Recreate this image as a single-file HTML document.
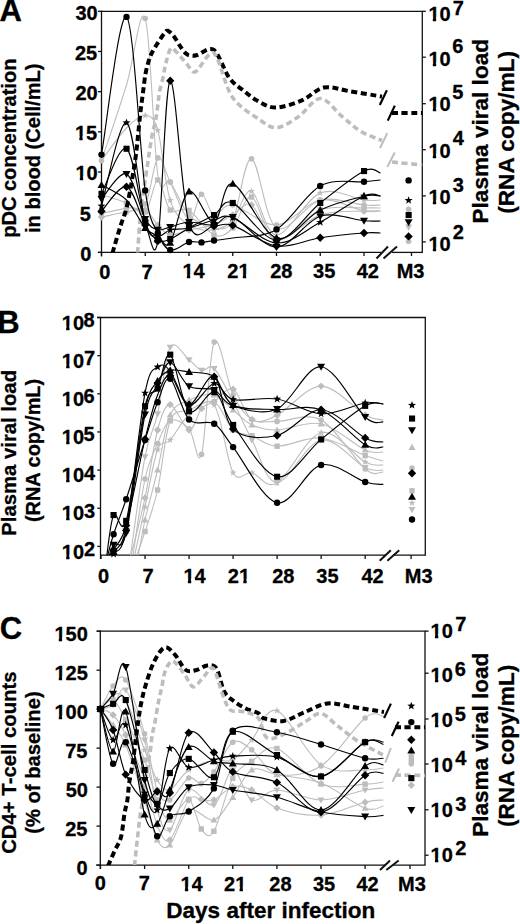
<!DOCTYPE html>
<html><head><meta charset="utf-8"><style>html,body{margin:0;padding:0;background:#fff;}svg{display:block}</style></head>
<body><svg width="520" height="924" viewBox="0 0 520 924" font-family="Liberation Sans, sans-serif" font-weight="bold">
<rect width="520" height="924" fill="#fff"/>
<style>text{stroke:#000;stroke-width:0.3;stroke-linejoin:round}</style>
<line x1="101.50" y1="10.70" x2="101.50" y2="256.50" stroke="#111" stroke-width="1.3"/>
<line x1="100.90" y1="11.30" x2="422.90" y2="11.30" stroke="#111" stroke-width="1.3"/>
<line x1="422.30" y1="11.30" x2="422.30" y2="252.40" stroke="#111" stroke-width="1.3"/>
<line x1="97.80" y1="252.40" x2="381.00" y2="252.40" stroke="#111" stroke-width="1.3"/>
<line x1="392.00" y1="252.40" x2="422.90" y2="252.40" stroke="#111" stroke-width="1.3"/>
<line x1="376.50" y1="258.50" x2="388.00" y2="246.50" stroke="#111" stroke-width="2"/>
<line x1="383.50" y1="258.50" x2="397.00" y2="246.50" stroke="#111" stroke-width="2"/>
<line x1="98.00" y1="11.30" x2="101.50" y2="11.30" stroke="#111" stroke-width="1.3"/>
<line x1="98.00" y1="51.48" x2="101.50" y2="51.48" stroke="#111" stroke-width="1.3"/>
<line x1="98.00" y1="91.67" x2="101.50" y2="91.67" stroke="#111" stroke-width="1.3"/>
<line x1="98.00" y1="131.85" x2="101.50" y2="131.85" stroke="#111" stroke-width="1.3"/>
<line x1="98.00" y1="172.03" x2="101.50" y2="172.03" stroke="#111" stroke-width="1.3"/>
<line x1="98.00" y1="212.22" x2="101.50" y2="212.22" stroke="#111" stroke-width="1.3"/>
<line x1="98.00" y1="252.40" x2="101.50" y2="252.40" stroke="#111" stroke-width="1.3"/>
<line x1="422.30" y1="11.30" x2="425.80" y2="11.30" stroke="#111" stroke-width="1.3"/>
<line x1="422.30" y1="57.20" x2="425.80" y2="57.20" stroke="#111" stroke-width="1.3"/>
<line x1="422.30" y1="103.70" x2="425.80" y2="103.70" stroke="#111" stroke-width="1.3"/>
<line x1="422.30" y1="149.70" x2="425.80" y2="149.70" stroke="#111" stroke-width="1.3"/>
<line x1="422.30" y1="195.90" x2="425.80" y2="195.90" stroke="#111" stroke-width="1.3"/>
<line x1="422.30" y1="241.90" x2="425.80" y2="241.90" stroke="#111" stroke-width="1.3"/>
<line x1="101.50" y1="252.40" x2="101.50" y2="256.00" stroke="#111" stroke-width="1.3"/>
<line x1="145.25" y1="252.40" x2="145.25" y2="256.00" stroke="#111" stroke-width="1.3"/>
<line x1="189.00" y1="252.40" x2="189.00" y2="256.00" stroke="#111" stroke-width="1.3"/>
<line x1="232.75" y1="252.40" x2="232.75" y2="256.00" stroke="#111" stroke-width="1.3"/>
<line x1="276.50" y1="252.40" x2="276.50" y2="256.00" stroke="#111" stroke-width="1.3"/>
<line x1="320.25" y1="252.40" x2="320.25" y2="256.00" stroke="#111" stroke-width="1.3"/>
<line x1="364.00" y1="252.40" x2="364.00" y2="256.00" stroke="#111" stroke-width="1.3"/>
<line x1="411.50" y1="252.40" x2="411.50" y2="256.00" stroke="#111" stroke-width="1.3"/>
<line x1="100.50" y1="316.90" x2="100.50" y2="559.00" stroke="#111" stroke-width="1.3"/>
<line x1="97.00" y1="317.50" x2="425.90" y2="317.50" stroke="#111" stroke-width="1.3"/>
<line x1="425.30" y1="317.50" x2="425.30" y2="555.20" stroke="#111" stroke-width="1.3"/>
<line x1="100.50" y1="555.20" x2="385.50" y2="555.20" stroke="#111" stroke-width="1.3"/>
<line x1="393.00" y1="555.20" x2="425.90" y2="555.20" stroke="#111" stroke-width="1.3"/>
<line x1="379.70" y1="560.80" x2="390.80" y2="550.30" stroke="#111" stroke-width="2"/>
<line x1="387.40" y1="560.80" x2="399.20" y2="550.30" stroke="#111" stroke-width="2"/>
<line x1="97.30" y1="317.50" x2="100.50" y2="317.50" stroke="#111" stroke-width="1.3"/>
<line x1="97.30" y1="355.65" x2="100.50" y2="355.65" stroke="#111" stroke-width="1.3"/>
<line x1="97.30" y1="393.80" x2="100.50" y2="393.80" stroke="#111" stroke-width="1.3"/>
<line x1="97.30" y1="431.95" x2="100.50" y2="431.95" stroke="#111" stroke-width="1.3"/>
<line x1="97.30" y1="470.10" x2="100.50" y2="470.10" stroke="#111" stroke-width="1.3"/>
<line x1="97.30" y1="508.25" x2="100.50" y2="508.25" stroke="#111" stroke-width="1.3"/>
<line x1="97.30" y1="546.40" x2="100.50" y2="546.40" stroke="#111" stroke-width="1.3"/>
<line x1="101.00" y1="555.20" x2="101.00" y2="559.00" stroke="#111" stroke-width="1.3"/>
<line x1="145.03" y1="555.20" x2="145.03" y2="559.00" stroke="#111" stroke-width="1.3"/>
<line x1="189.06" y1="555.20" x2="189.06" y2="559.00" stroke="#111" stroke-width="1.3"/>
<line x1="233.09" y1="555.20" x2="233.09" y2="559.00" stroke="#111" stroke-width="1.3"/>
<line x1="277.12" y1="555.20" x2="277.12" y2="559.00" stroke="#111" stroke-width="1.3"/>
<line x1="321.15" y1="555.20" x2="321.15" y2="559.00" stroke="#111" stroke-width="1.3"/>
<line x1="365.18" y1="555.20" x2="365.18" y2="559.00" stroke="#111" stroke-width="1.3"/>
<line x1="411.10" y1="555.20" x2="411.10" y2="559.00" stroke="#111" stroke-width="1.3"/>
<line x1="100.30" y1="630.60" x2="100.30" y2="869.00" stroke="#111" stroke-width="1.3"/>
<line x1="96.80" y1="631.20" x2="425.60" y2="631.20" stroke="#111" stroke-width="1.3"/>
<line x1="425.00" y1="631.20" x2="425.00" y2="865.10" stroke="#111" stroke-width="1.3"/>
<line x1="96.20" y1="865.10" x2="385.00" y2="865.10" stroke="#111" stroke-width="1.3"/>
<line x1="393.00" y1="865.10" x2="425.60" y2="865.10" stroke="#111" stroke-width="1.3"/>
<line x1="380.00" y1="870.00" x2="390.00" y2="860.50" stroke="#111" stroke-width="2"/>
<line x1="386.30" y1="870.00" x2="398.70" y2="860.50" stroke="#111" stroke-width="2"/>
<line x1="96.50" y1="631.20" x2="100.30" y2="631.20" stroke="#111" stroke-width="1.3"/>
<line x1="96.50" y1="670.18" x2="100.30" y2="670.18" stroke="#111" stroke-width="1.3"/>
<line x1="96.50" y1="709.17" x2="100.30" y2="709.17" stroke="#111" stroke-width="1.3"/>
<line x1="96.50" y1="748.15" x2="100.30" y2="748.15" stroke="#111" stroke-width="1.3"/>
<line x1="96.50" y1="787.13" x2="100.30" y2="787.13" stroke="#111" stroke-width="1.3"/>
<line x1="96.50" y1="826.12" x2="100.30" y2="826.12" stroke="#111" stroke-width="1.3"/>
<line x1="96.50" y1="865.10" x2="100.30" y2="865.10" stroke="#111" stroke-width="1.3"/>
<line x1="425.00" y1="631.10" x2="428.60" y2="631.10" stroke="#111" stroke-width="1.3"/>
<line x1="425.00" y1="673.20" x2="428.60" y2="673.20" stroke="#111" stroke-width="1.3"/>
<line x1="425.00" y1="719.00" x2="428.60" y2="719.00" stroke="#111" stroke-width="1.3"/>
<line x1="425.00" y1="764.00" x2="428.60" y2="764.00" stroke="#111" stroke-width="1.3"/>
<line x1="425.00" y1="809.80" x2="428.60" y2="809.80" stroke="#111" stroke-width="1.3"/>
<line x1="425.00" y1="855.20" x2="428.60" y2="855.20" stroke="#111" stroke-width="1.3"/>
<line x1="100.50" y1="865.10" x2="100.50" y2="869.00" stroke="#111" stroke-width="1.3"/>
<line x1="144.60" y1="865.10" x2="144.60" y2="869.00" stroke="#111" stroke-width="1.3"/>
<line x1="188.70" y1="865.10" x2="188.70" y2="869.00" stroke="#111" stroke-width="1.3"/>
<line x1="232.80" y1="865.10" x2="232.80" y2="869.00" stroke="#111" stroke-width="1.3"/>
<line x1="276.90" y1="865.10" x2="276.90" y2="869.00" stroke="#111" stroke-width="1.3"/>
<line x1="321.00" y1="865.10" x2="321.00" y2="869.00" stroke="#111" stroke-width="1.3"/>
<line x1="365.10" y1="865.10" x2="365.10" y2="869.00" stroke="#111" stroke-width="1.3"/>
<line x1="410.00" y1="865.10" x2="410.00" y2="869.00" stroke="#111" stroke-width="1.3"/>
<defs><clipPath id="cA"><rect x="101.5" y="11.3" width="321" height="241.1"/></clipPath><clipPath id="cB"><rect x="100.5" y="317.5" width="325" height="237.7"/></clipPath><clipPath id="cC"><rect x="100.3" y="631.2" width="325" height="233.9"/></clipPath></defs>
<path d="M101.5,160.6 C105.7,148.0 119.2,108.7 126.5,85.0 C133.8,61.3 140.0,3.5 145.2,18.5 C150.5,33.5 153.6,147.8 157.8,175.0 C161.9,202.2 165.0,175.3 170.2,182.0 C175.5,188.7 181.7,207.3 189.0,215.0 C196.3,222.7 206.7,227.2 214.0,228.0 C221.3,228.8 226.5,231.5 232.8,220.0 C239.0,208.5 244.2,157.5 251.5,158.8 C258.8,160.1 265.0,221.1 276.5,228.0 C288.0,234.9 305.7,203.8 320.2,200.0 C334.8,196.2 354.0,204.2 364.0,205.0 C374.0,205.8 377.8,205.0 380.5,205.0" fill="none" stroke="#bdbdbd" stroke-width="1.1" stroke-linejoin="round" clip-path="url(#cA)"/>
<path d="M101.5,160.5 C105.7,155.1 119.2,135.5 126.5,128.0 C133.8,120.5 140.0,115.1 145.2,115.5 C150.5,115.9 153.6,116.2 157.8,130.3 C161.9,144.4 165.0,184.5 170.2,200.3 C175.5,216.1 181.7,220.1 189.0,225.0 C196.3,229.9 206.7,230.8 214.0,230.0 C221.3,229.2 226.5,226.5 232.8,220.0 C239.0,213.5 244.2,188.7 251.5,191.2 C258.8,193.7 265.0,234.7 276.5,235.0 C288.0,235.3 305.7,198.8 320.2,193.0 C334.8,187.2 354.0,198.8 364.0,200.0 C374.0,201.2 377.8,200.0 380.5,200.0" fill="none" stroke="#bdbdbd" stroke-width="1.1" stroke-linejoin="round" clip-path="url(#cA)"/>
<path d="M101.5,194.6 C105.7,196.0 119.2,200.1 126.5,203.0 C133.8,205.9 140.0,215.8 145.2,212.0 C150.5,208.2 153.6,180.3 157.8,180.0 C161.9,179.7 165.0,204.9 170.2,210.0 C175.5,215.1 181.7,206.2 189.0,210.4 C196.3,214.6 206.7,232.1 214.0,235.0 C221.3,237.9 226.5,234.3 232.8,228.0 C239.0,221.7 244.2,195.0 251.5,197.0 C258.8,199.0 265.0,237.8 276.5,240.0 C288.0,242.2 305.7,215.3 320.2,210.0 C334.8,204.7 354.0,208.3 364.0,208.0 C374.0,207.7 377.8,208.0 380.5,208.0" fill="none" stroke="#bdbdbd" stroke-width="1.1" stroke-linejoin="round" clip-path="url(#cA)"/>
<path d="M101.5,213.5 C105.7,212.6 119.2,209.6 126.5,208.0 C133.8,206.4 140.0,212.3 145.2,204.0 C150.5,195.7 153.6,161.6 157.8,157.9 C161.9,154.2 165.0,171.8 170.2,182.1 C175.5,192.4 183.8,218.0 189.0,220.0 C194.2,222.0 197.3,195.0 201.5,194.2 C205.7,193.4 208.8,213.2 214.0,215.0 C219.2,216.8 222.3,203.3 232.8,205.0 C243.2,206.7 261.9,225.8 276.5,225.0 C291.1,224.2 305.7,202.3 320.2,200.0 C334.8,197.7 354.0,209.2 364.0,211.0 C374.0,212.8 377.8,211.0 380.5,211.0" fill="none" stroke="#bdbdbd" stroke-width="1.1" stroke-linejoin="round" clip-path="url(#cA)"/>
<path d="M101.5,217.0 C105.7,216.2 119.2,213.2 126.5,212.0 C133.8,210.8 140.0,207.8 145.2,210.0 C150.5,212.2 153.6,220.8 157.8,225.0 C161.9,229.2 165.0,234.2 170.2,235.0 C175.5,235.8 181.7,231.7 189.0,230.0 C196.3,228.3 206.7,227.5 214.0,225.0 C221.3,222.5 226.5,218.3 232.8,215.0 C239.0,211.7 244.2,200.8 251.5,205.0 C258.8,209.2 265.0,238.3 276.5,240.0 C288.0,241.7 305.7,219.8 320.2,215.0 C334.8,210.2 354.0,211.7 364.0,211.0 C374.0,210.3 377.8,211.0 380.5,211.0" fill="none" stroke="#bdbdbd" stroke-width="1.1" stroke-linejoin="round" clip-path="url(#cA)"/>
<line x1="387.3" y1="133.1" x2="380" y2="148.1" stroke="#bdbdbd" stroke-width="2"/>
<line x1="394.8" y1="152.5" x2="387.3" y2="166.9" stroke="#bdbdbd" stroke-width="2"/>
<path d="M129.9,560.0 C132.4,549.6 140.4,519.6 145.0,497.9 C149.6,476.2 153.4,445.6 157.6,430.0 C161.8,414.4 164.9,404.6 170.2,404.6 C175.4,404.6 183.8,429.4 189.1,430.0 C194.3,430.6 197.4,413.2 201.6,408.5 C205.8,403.8 209.0,404.8 214.2,401.6 C219.5,398.4 226.8,386.2 233.1,389.2 C239.4,392.2 244.6,415.3 252.0,419.6 C259.3,423.9 265.6,420.8 277.1,415.2 C288.7,409.6 306.5,386.1 321.1,386.1 C335.8,386.1 354.8,409.4 365.2,415.0 C375.5,420.6 380.3,419.2 383.3,420.0" fill="none" stroke="#bdbdbd" stroke-width="1.1" stroke-linejoin="round" clip-path="url(#cB)"/>
<path d="M129.9,560.0 C132.4,542.8 140.4,481.2 145.0,456.9 C149.6,432.5 153.4,432.2 157.6,413.9 C161.8,395.6 164.9,356.3 170.2,347.3 C175.4,338.3 183.8,356.0 189.1,359.8 C194.3,363.6 197.4,368.9 201.6,370.4 C205.8,371.8 209.0,363.3 214.2,368.5 C219.5,373.7 226.8,389.7 233.1,401.6 C239.4,413.5 244.6,426.5 252.0,440.0 C259.3,453.5 265.6,482.5 277.1,482.5 C288.7,482.5 306.5,442.5 321.1,440.0 C335.8,437.5 354.8,462.7 365.2,467.7 C375.5,472.7 380.3,469.6 383.3,470.0" fill="none" stroke="#bdbdbd" stroke-width="1.1" stroke-linejoin="round" clip-path="url(#cB)"/>
<path d="M132.4,560.0 C134.5,546.5 140.8,498.4 145.0,479.0 C149.2,459.6 153.4,453.3 157.6,443.5 C161.8,433.7 164.9,422.8 170.2,420.4 C175.4,418.0 183.8,423.2 189.1,428.9 C194.3,434.5 197.4,468.8 201.6,454.3 C205.8,439.8 209.0,352.0 214.2,342.1 C219.5,332.2 226.8,382.1 233.1,395.0 C239.4,407.9 244.6,415.2 252.0,419.6 C259.3,424.0 265.6,421.3 277.1,421.4 C288.7,421.5 306.5,412.1 321.1,420.0 C335.8,427.9 354.8,460.3 365.2,469.0 C375.5,477.7 380.3,471.5 383.3,472.0" fill="none" stroke="#bdbdbd" stroke-width="1.1" stroke-linejoin="round" clip-path="url(#cB)"/>
<path d="M135.0,560.0 C136.6,555.2 141.3,543.2 145.0,531.5 C148.8,519.8 153.4,508.4 157.6,490.0 C161.8,471.6 164.9,434.1 170.2,420.8 C175.4,407.5 181.7,413.1 189.1,410.0 C196.4,406.9 206.9,398.7 214.2,402.0 C221.6,405.3 226.8,424.4 233.1,430.0 C239.4,435.6 244.6,433.1 252.0,435.8 C259.3,438.5 265.6,445.8 277.1,446.2 C288.7,446.6 306.5,436.4 321.1,438.0 C335.8,439.6 354.8,451.8 365.2,455.6 C375.5,459.4 380.3,460.1 383.3,461.0" fill="none" stroke="#bdbdbd" stroke-width="1.1" stroke-linejoin="round" clip-path="url(#cB)"/>
<path d="M133.7,560.0 C135.6,551.2 141.0,525.4 145.0,507.0 C149.0,488.6 153.4,460.9 157.6,449.7 C161.8,438.5 164.9,445.8 170.2,440.0 C175.4,434.2 181.7,420.8 189.1,415.0 C196.4,409.2 206.9,395.4 214.2,405.0 C221.6,414.6 226.8,461.4 233.1,472.7 C239.4,484.0 244.6,471.0 252.0,472.7 C259.3,474.4 265.6,489.7 277.1,483.0 C288.7,476.3 306.5,436.2 321.1,432.7 C335.8,429.2 354.8,456.6 365.2,462.0 C375.5,467.4 380.3,464.5 383.3,465.0" fill="none" stroke="#bdbdbd" stroke-width="1.1" stroke-linejoin="round" clip-path="url(#cB)"/>
<path d="M137.5,560.0 C138.7,553.3 141.7,535.0 145.0,520.0 C148.4,505.0 153.4,487.5 157.6,470.0 C161.8,452.5 164.9,426.7 170.2,415.0 C175.4,403.3 181.7,403.3 189.1,400.0 C196.4,396.7 206.9,393.3 214.2,395.0 C221.6,396.7 226.8,405.0 233.1,410.0 C239.4,415.0 244.6,421.7 252.0,425.0 C259.3,428.3 265.6,430.2 277.1,430.0 C288.7,429.8 306.5,420.5 321.1,423.8 C335.8,427.1 354.8,445.3 365.2,450.0 C375.5,454.7 380.3,451.7 383.3,452.0" fill="none" stroke="#bdbdbd" stroke-width="1.1" stroke-linejoin="round" clip-path="url(#cB)"/>
<path d="M100.5,709.0 C102.6,705.2 108.9,690.8 113.1,686.0 C117.3,681.2 120.5,672.0 125.7,680.0 C130.9,688.0 139.3,715.5 144.6,733.8 C149.8,752.1 153.0,779.0 157.2,790.0 C161.4,801.0 164.6,802.0 169.8,800.0 C175.1,798.0 183.4,780.7 188.7,778.0 C193.9,775.3 197.1,784.6 201.3,783.6 C205.5,782.6 208.6,778.8 213.9,771.9 C219.1,765.0 226.5,746.0 232.8,742.3 C239.1,738.6 244.3,744.4 251.7,749.7 C259.1,755.0 265.3,771.3 276.9,774.0 C288.4,776.7 306.3,775.3 321.0,766.0 C335.7,756.7 354.7,726.3 365.1,718.0 C375.5,709.7 380.4,716.3 383.5,716.0" fill="none" stroke="#bdbdbd" stroke-width="1.1" stroke-linejoin="round" clip-path="url(#cC)"/>
<path d="M100.5,709.0 C102.6,707.5 108.9,698.2 113.1,700.0 C117.3,701.8 120.5,710.0 125.7,720.0 C130.9,730.0 139.3,746.7 144.6,760.0 C149.8,773.3 153.0,790.0 157.2,800.0 C161.4,810.0 164.6,820.1 169.8,820.0 C175.1,819.9 183.4,797.9 188.7,799.4 C193.9,800.9 197.1,823.7 201.3,829.0 C205.5,834.3 208.6,839.7 213.9,831.2 C219.1,822.8 226.5,789.9 232.8,778.3 C239.1,766.6 244.3,766.3 251.7,761.3 C259.1,756.3 265.3,744.7 276.9,748.5 C288.4,752.3 306.3,778.2 321.0,784.1 C335.7,790.0 354.7,784.5 365.1,784.1 C375.5,783.8 380.4,782.4 383.5,782.0" fill="none" stroke="#bdbdbd" stroke-width="1.1" stroke-linejoin="round" clip-path="url(#cC)"/>
<path d="M100.5,709.0 C102.6,710.0 108.9,710.7 113.1,715.0 C117.3,719.3 120.5,724.2 125.7,735.0 C130.9,745.8 139.3,765.0 144.6,780.0 C149.8,795.0 153.0,815.0 157.2,825.0 C161.4,835.0 164.6,844.2 169.8,840.0 C175.1,835.8 183.4,806.8 188.7,800.0 C193.9,793.2 197.1,799.4 201.3,799.4 C205.5,799.4 208.6,802.1 213.9,800.0 C219.1,797.9 226.5,788.4 232.8,786.7 C239.1,785.0 244.3,786.4 251.7,789.9 C259.1,793.4 265.3,803.7 276.9,807.9 C288.4,812.1 306.3,816.0 321.0,815.1 C335.7,814.2 354.7,804.7 365.1,802.2 C375.5,799.7 380.4,800.4 383.5,800.0" fill="none" stroke="#bdbdbd" stroke-width="1.1" stroke-linejoin="round" clip-path="url(#cC)"/>
<path d="M100.5,709.0 C102.6,711.7 108.9,719.0 113.1,725.0 C117.3,731.0 120.5,732.5 125.7,745.0 C130.9,757.5 139.3,784.2 144.6,800.0 C149.8,815.8 153.0,832.5 157.2,840.0 C161.4,847.5 164.6,850.0 169.8,845.0 C175.1,840.0 181.3,814.2 188.7,810.0 C196.0,805.8 206.5,822.1 213.9,820.0 C221.2,817.9 226.5,805.6 232.8,797.3 C239.1,789.0 244.3,773.8 251.7,770.0 C259.1,766.2 265.3,772.5 276.9,774.7 C288.4,776.9 306.3,777.5 321.0,783.1 C335.7,788.7 354.7,804.4 365.1,808.2 C375.5,812.0 380.4,806.4 383.5,806.0" fill="none" stroke="#bdbdbd" stroke-width="1.1" stroke-linejoin="round" clip-path="url(#cC)"/>
<path d="M100.5,709.0 C102.6,706.7 108.9,696.5 113.1,695.0 C117.3,693.5 120.5,690.8 125.7,700.0 C130.9,709.2 139.3,736.7 144.6,750.0 C149.8,763.3 153.0,773.3 157.2,780.0 C161.4,786.7 164.6,791.7 169.8,790.0 C175.1,788.3 181.3,775.0 188.7,770.0 C196.0,765.0 206.5,761.7 213.9,760.0 C221.2,758.3 226.5,763.3 232.8,760.0 C239.1,756.7 244.3,748.2 251.7,740.0 C259.1,731.8 265.3,706.6 276.9,710.8 C288.4,714.9 306.3,755.0 321.0,764.9 C335.7,774.8 354.7,769.5 365.1,770.0 C375.5,770.5 380.4,768.3 383.5,768.0" fill="none" stroke="#bdbdbd" stroke-width="1.1" stroke-linejoin="round" clip-path="url(#cC)"/>
<path d="M100.5,709.0 C102.6,708.3 108.9,708.2 113.1,705.0 C117.3,701.8 120.5,684.2 125.7,690.0 C130.9,695.8 139.3,720.0 144.6,740.0 C149.8,760.0 153.0,795.0 157.2,810.0 C161.4,825.0 164.6,833.3 169.8,830.0 C175.1,826.7 181.3,794.2 188.7,790.0 C196.0,785.8 206.5,808.3 213.9,805.0 C221.2,801.7 226.5,770.8 232.8,770.0 C239.1,769.2 244.3,796.7 251.7,800.0 C259.1,803.3 265.3,790.0 276.9,790.0 C288.4,790.0 306.3,800.0 321.0,800.0 C335.7,800.0 354.7,792.0 365.1,790.0 C375.5,788.0 380.4,788.3 383.5,788.0" fill="none" stroke="#bdbdbd" stroke-width="1.1" stroke-linejoin="round" clip-path="url(#cC)"/>
<line x1="390.9" y1="748" x2="385.3" y2="762.5" stroke="#bdbdbd" stroke-width="2"/>
<line x1="399" y1="768.5" x2="392.5" y2="781.7" stroke="#bdbdbd" stroke-width="2"/>
<circle cx="101.5" cy="160.6" r="2.8" fill="#bdbdbd"/>
<circle cx="145.2" cy="18.5" r="2.8" fill="#bdbdbd"/>
<circle cx="170.2" cy="182.0" r="2.8" fill="#bdbdbd"/>
<circle cx="189.0" cy="215.0" r="2.8" fill="#bdbdbd"/>
<circle cx="214.0" cy="228.0" r="2.8" fill="#bdbdbd"/>
<circle cx="232.8" cy="220.0" r="2.8" fill="#bdbdbd"/>
<circle cx="251.5" cy="158.8" r="2.8" fill="#bdbdbd"/>
<circle cx="276.5" cy="228.0" r="2.8" fill="#bdbdbd"/>
<circle cx="320.2" cy="200.0" r="2.8" fill="#bdbdbd"/>
<circle cx="364.0" cy="205.0" r="2.8" fill="#bdbdbd"/>
<path d="M145.2,111.8 L146.2,114.3 L148.7,114.4 L146.7,116.0 L147.4,118.5 L145.2,117.0 L143.1,118.5 L143.8,116.0 L141.8,114.4 L144.3,114.3Z" fill="#bdbdbd"/>
<path d="M157.8,126.6 L158.7,129.1 L161.2,129.2 L159.2,130.8 L159.9,133.3 L157.8,131.8 L155.6,133.3 L156.3,130.8 L154.3,129.2 L156.8,129.1Z" fill="#bdbdbd"/>
<path d="M170.2,196.6 L171.2,199.1 L173.7,199.2 L171.7,200.8 L172.4,203.3 L170.2,201.8 L168.1,203.3 L168.8,200.8 L166.8,199.2 L169.3,199.1Z" fill="#bdbdbd"/>
<path d="M189.0,221.3 L189.9,223.8 L192.5,223.9 L190.5,225.5 L191.2,228.0 L189.0,226.5 L186.8,228.0 L187.5,225.5 L185.5,223.9 L188.1,223.8Z" fill="#bdbdbd"/>
<path d="M214.0,226.3 L214.9,228.8 L217.5,228.9 L215.5,230.5 L216.2,233.0 L214.0,231.5 L211.8,233.0 L212.5,230.5 L210.5,228.9 L213.1,228.8Z" fill="#bdbdbd"/>
<path d="M232.8,216.3 L233.7,218.8 L236.2,218.9 L234.2,220.5 L234.9,223.0 L232.8,221.5 L230.6,223.0 L231.3,220.5 L229.3,218.9 L231.8,218.8Z" fill="#bdbdbd"/>
<path d="M251.5,187.5 L252.4,190.0 L255.0,190.1 L253.0,191.7 L253.7,194.2 L251.5,192.7 L249.3,194.2 L250.0,191.7 L248.0,190.1 L250.6,190.0Z" fill="#bdbdbd"/>
<path d="M276.5,231.3 L277.4,233.8 L280.0,233.9 L278.0,235.5 L278.7,238.0 L276.5,236.5 L274.3,238.0 L275.0,235.5 L273.0,233.9 L275.6,233.8Z" fill="#bdbdbd"/>
<path d="M320.2,189.3 L321.2,191.8 L323.7,191.9 L321.7,193.5 L322.4,196.0 L320.2,194.5 L318.1,196.0 L318.8,193.5 L316.8,191.9 L319.3,191.8Z" fill="#bdbdbd"/>
<path d="M364.0,196.3 L364.9,198.8 L367.5,198.9 L365.5,200.5 L366.2,203.0 L364.0,201.5 L361.8,203.0 L362.5,200.5 L360.5,198.9 L363.1,198.8Z" fill="#bdbdbd"/>
<rect x="98.8" y="191.9" width="5.4" height="5.4" fill="#bdbdbd"/>
<rect x="123.8" y="200.3" width="5.4" height="5.4" fill="#bdbdbd"/>
<rect x="142.6" y="209.3" width="5.4" height="5.4" fill="#bdbdbd"/>
<rect x="155.1" y="177.3" width="5.4" height="5.4" fill="#bdbdbd"/>
<rect x="167.6" y="207.3" width="5.4" height="5.4" fill="#bdbdbd"/>
<rect x="186.3" y="207.7" width="5.4" height="5.4" fill="#bdbdbd"/>
<rect x="211.3" y="232.3" width="5.4" height="5.4" fill="#bdbdbd"/>
<rect x="230.1" y="225.3" width="5.4" height="5.4" fill="#bdbdbd"/>
<rect x="248.8" y="194.3" width="5.4" height="5.4" fill="#bdbdbd"/>
<rect x="273.8" y="237.3" width="5.4" height="5.4" fill="#bdbdbd"/>
<rect x="317.6" y="207.3" width="5.4" height="5.4" fill="#bdbdbd"/>
<rect x="361.3" y="205.3" width="5.4" height="5.4" fill="#bdbdbd"/>
<circle cx="101.5" cy="213.5" r="2.8" fill="#bdbdbd"/>
<circle cx="126.5" cy="208.0" r="2.8" fill="#bdbdbd"/>
<circle cx="145.2" cy="204.0" r="2.8" fill="#bdbdbd"/>
<circle cx="157.8" cy="157.9" r="2.8" fill="#bdbdbd"/>
<circle cx="170.2" cy="182.1" r="2.8" fill="#bdbdbd"/>
<circle cx="189.0" cy="220.0" r="2.8" fill="#bdbdbd"/>
<circle cx="201.5" cy="194.2" r="2.8" fill="#bdbdbd"/>
<circle cx="214.0" cy="215.0" r="2.8" fill="#bdbdbd"/>
<circle cx="232.8" cy="205.0" r="2.8" fill="#bdbdbd"/>
<circle cx="276.5" cy="225.0" r="2.8" fill="#bdbdbd"/>
<circle cx="320.2" cy="200.0" r="2.8" fill="#bdbdbd"/>
<circle cx="364.0" cy="211.0" r="2.8" fill="#bdbdbd"/>
<path d="M101.5,213.3 L105.2,217.0 L101.5,220.7 L97.8,217.0Z" fill="#bdbdbd"/>
<path d="M126.5,208.3 L130.2,212.0 L126.5,215.7 L122.8,212.0Z" fill="#bdbdbd"/>
<path d="M145.2,206.3 L148.9,210.0 L145.2,213.7 L141.6,210.0Z" fill="#bdbdbd"/>
<path d="M157.8,221.3 L161.4,225.0 L157.8,228.7 L154.1,225.0Z" fill="#bdbdbd"/>
<path d="M170.2,231.3 L173.9,235.0 L170.2,238.7 L166.6,235.0Z" fill="#bdbdbd"/>
<path d="M189.0,226.3 L192.7,230.0 L189.0,233.7 L185.3,230.0Z" fill="#bdbdbd"/>
<path d="M214.0,221.3 L217.7,225.0 L214.0,228.7 L210.3,225.0Z" fill="#bdbdbd"/>
<path d="M232.8,211.3 L236.4,215.0 L232.8,218.7 L229.1,215.0Z" fill="#bdbdbd"/>
<path d="M251.5,201.3 L255.2,205.0 L251.5,208.7 L247.8,205.0Z" fill="#bdbdbd"/>
<path d="M276.5,236.3 L280.2,240.0 L276.5,243.7 L272.8,240.0Z" fill="#bdbdbd"/>
<path d="M320.2,211.3 L323.9,215.0 L320.2,218.7 L316.6,215.0Z" fill="#bdbdbd"/>
<path d="M364.0,207.3 L367.7,211.0 L364.0,214.7 L360.3,211.0Z" fill="#bdbdbd"/>
<circle cx="408.6" cy="209.2" r="2.8" fill="#bdbdbd"/>
<path d="M408.6,230.7 L412.1,224.6 L405.1,224.6Z" fill="#bdbdbd"/>
<circle cx="408.6" cy="241.3" r="2.8" fill="#bdbdbd"/>
<path d="M145.0,494.2 L148.7,497.9 L145.0,501.6 L141.4,497.9Z" fill="#bdbdbd"/>
<path d="M157.6,426.3 L161.3,430.0 L157.6,433.7 L153.9,430.0Z" fill="#bdbdbd"/>
<path d="M170.2,400.9 L173.9,404.6 L170.2,408.3 L166.5,404.6Z" fill="#bdbdbd"/>
<path d="M189.1,426.3 L192.7,430.0 L189.1,433.7 L185.4,430.0Z" fill="#bdbdbd"/>
<path d="M201.6,404.8 L205.3,408.5 L201.6,412.2 L198.0,408.5Z" fill="#bdbdbd"/>
<path d="M214.2,397.9 L217.9,401.6 L214.2,405.3 L210.6,401.6Z" fill="#bdbdbd"/>
<path d="M233.1,385.5 L236.8,389.2 L233.1,392.9 L229.4,389.2Z" fill="#bdbdbd"/>
<path d="M252.0,415.9 L255.6,419.6 L252.0,423.3 L248.3,419.6Z" fill="#bdbdbd"/>
<path d="M277.1,411.5 L280.8,415.2 L277.1,418.9 L273.5,415.2Z" fill="#bdbdbd"/>
<path d="M321.1,382.4 L324.8,386.1 L321.1,389.8 L317.5,386.1Z" fill="#bdbdbd"/>
<path d="M365.2,411.3 L368.8,415.0 L365.2,418.7 L361.5,415.0Z" fill="#bdbdbd"/>
<path d="M145.0,460.4 L148.6,454.3 L141.5,454.3Z" fill="#bdbdbd"/>
<path d="M157.6,417.4 L161.1,411.3 L154.1,411.3Z" fill="#bdbdbd"/>
<path d="M170.2,350.8 L173.7,344.7 L166.7,344.7Z" fill="#bdbdbd"/>
<path d="M189.1,363.3 L192.6,357.2 L185.5,357.2Z" fill="#bdbdbd"/>
<path d="M201.6,373.9 L205.2,367.8 L198.1,367.8Z" fill="#bdbdbd"/>
<path d="M214.2,372.0 L217.7,365.9 L210.7,365.9Z" fill="#bdbdbd"/>
<path d="M233.1,405.1 L236.6,399.0 L229.6,399.0Z" fill="#bdbdbd"/>
<path d="M252.0,443.5 L255.5,437.4 L248.4,437.4Z" fill="#bdbdbd"/>
<path d="M277.1,486.0 L280.6,479.9 L273.6,479.9Z" fill="#bdbdbd"/>
<path d="M321.1,443.5 L324.7,437.4 L317.6,437.4Z" fill="#bdbdbd"/>
<path d="M365.2,471.2 L368.7,465.1 L361.7,465.1Z" fill="#bdbdbd"/>
<circle cx="145.0" cy="479.0" r="2.8" fill="#bdbdbd"/>
<circle cx="157.6" cy="443.5" r="2.8" fill="#bdbdbd"/>
<circle cx="170.2" cy="420.4" r="2.8" fill="#bdbdbd"/>
<circle cx="189.1" cy="428.9" r="2.8" fill="#bdbdbd"/>
<circle cx="201.6" cy="454.3" r="2.8" fill="#bdbdbd"/>
<circle cx="214.2" cy="342.1" r="2.8" fill="#bdbdbd"/>
<circle cx="233.1" cy="395.0" r="2.8" fill="#bdbdbd"/>
<circle cx="252.0" cy="419.6" r="2.8" fill="#bdbdbd"/>
<circle cx="277.1" cy="421.4" r="2.8" fill="#bdbdbd"/>
<circle cx="321.1" cy="420.0" r="2.8" fill="#bdbdbd"/>
<circle cx="365.2" cy="469.0" r="2.8" fill="#bdbdbd"/>
<rect x="142.4" y="528.8" width="5.4" height="5.4" fill="#bdbdbd"/>
<rect x="154.9" y="487.3" width="5.4" height="5.4" fill="#bdbdbd"/>
<rect x="167.5" y="418.1" width="5.4" height="5.4" fill="#bdbdbd"/>
<rect x="186.4" y="407.3" width="5.4" height="5.4" fill="#bdbdbd"/>
<rect x="211.5" y="399.3" width="5.4" height="5.4" fill="#bdbdbd"/>
<rect x="230.4" y="427.3" width="5.4" height="5.4" fill="#bdbdbd"/>
<rect x="249.3" y="433.1" width="5.4" height="5.4" fill="#bdbdbd"/>
<rect x="274.4" y="443.5" width="5.4" height="5.4" fill="#bdbdbd"/>
<rect x="318.5" y="435.3" width="5.4" height="5.4" fill="#bdbdbd"/>
<rect x="362.5" y="452.9" width="5.4" height="5.4" fill="#bdbdbd"/>
<path d="M145.0,503.3 L145.9,505.8 L148.5,505.9 L146.5,507.5 L147.2,510.0 L145.0,508.5 L142.9,510.0 L143.6,507.5 L141.5,505.9 L144.1,505.8Z" fill="#bdbdbd"/>
<path d="M157.6,446.0 L158.5,448.5 L161.1,448.6 L159.1,450.2 L159.8,452.7 L157.6,451.2 L155.5,452.7 L156.1,450.2 L154.1,448.6 L156.7,448.5Z" fill="#bdbdbd"/>
<path d="M170.2,436.3 L171.1,438.8 L173.7,438.9 L171.7,440.5 L172.3,443.0 L170.2,441.5 L168.0,443.0 L168.7,440.5 L166.7,438.9 L169.3,438.8Z" fill="#bdbdbd"/>
<path d="M189.1,411.3 L190.0,413.8 L192.5,413.9 L190.5,415.5 L191.2,418.0 L189.1,416.5 L186.9,418.0 L187.6,415.5 L185.6,413.9 L188.2,413.8Z" fill="#bdbdbd"/>
<path d="M214.2,401.3 L215.1,403.8 L217.7,403.9 L215.7,405.5 L216.4,408.0 L214.2,406.5 L212.1,408.0 L212.8,405.5 L210.7,403.9 L213.3,403.8Z" fill="#bdbdbd"/>
<path d="M233.1,469.0 L234.0,471.5 L236.6,471.6 L234.6,473.2 L235.2,475.7 L233.1,474.2 L230.9,475.7 L231.6,473.2 L229.6,471.6 L232.2,471.5Z" fill="#bdbdbd"/>
<path d="M252.0,469.0 L252.9,471.5 L255.4,471.6 L253.4,473.2 L254.1,475.7 L252.0,474.2 L249.8,475.7 L250.5,473.2 L248.5,471.6 L251.1,471.5Z" fill="#bdbdbd"/>
<path d="M277.1,479.3 L278.0,481.8 L280.6,481.9 L278.6,483.5 L279.3,486.0 L277.1,484.5 L275.0,486.0 L275.7,483.5 L273.6,481.9 L276.2,481.8Z" fill="#bdbdbd"/>
<path d="M321.1,429.0 L322.1,431.5 L324.6,431.6 L322.6,433.2 L323.3,435.7 L321.1,434.2 L319.0,435.7 L319.7,433.2 L317.7,431.6 L320.2,431.5Z" fill="#bdbdbd"/>
<path d="M365.2,458.3 L366.1,460.8 L368.7,460.9 L366.6,462.5 L367.3,465.0 L365.2,463.5 L363.0,465.0 L363.7,462.5 L361.7,460.9 L364.3,460.8Z" fill="#bdbdbd"/>
<path d="M145.0,516.5 L148.6,522.6 L141.5,522.6Z" fill="#bdbdbd"/>
<path d="M157.6,466.5 L161.1,472.6 L154.1,472.6Z" fill="#bdbdbd"/>
<path d="M170.2,411.5 L173.7,417.6 L166.7,417.6Z" fill="#bdbdbd"/>
<path d="M189.1,396.5 L192.6,402.6 L185.5,402.6Z" fill="#bdbdbd"/>
<path d="M214.2,391.5 L217.7,397.6 L210.7,397.6Z" fill="#bdbdbd"/>
<path d="M233.1,406.5 L236.6,412.6 L229.6,412.6Z" fill="#bdbdbd"/>
<path d="M252.0,421.5 L255.5,427.6 L248.4,427.6Z" fill="#bdbdbd"/>
<path d="M277.1,426.5 L280.6,432.6 L273.6,432.6Z" fill="#bdbdbd"/>
<path d="M321.1,420.3 L324.7,426.4 L317.6,426.4Z" fill="#bdbdbd"/>
<path d="M365.2,446.5 L368.7,452.6 L361.7,452.6Z" fill="#bdbdbd"/>
<path d="M412.0,443.8 L415.5,449.9 L408.5,449.9Z" fill="#bdbdbd"/>
<circle cx="412.0" cy="468.0" r="2.8" fill="#bdbdbd"/>
<rect x="409.3" y="488.1" width="5.4" height="5.4" fill="#bdbdbd"/>
<path d="M412.0,499.2 L412.9,501.7 L415.5,501.8 L413.5,503.4 L414.2,505.9 L412.0,504.4 L409.8,505.9 L410.5,503.4 L408.5,501.8 L411.1,501.7Z" fill="#bdbdbd"/>
<path d="M412.0,513.2 L415.5,507.1 L408.5,507.1Z" fill="#bdbdbd"/>
<circle cx="100.5" cy="709.0" r="2.8" fill="#bdbdbd"/>
<circle cx="113.1" cy="686.0" r="2.8" fill="#bdbdbd"/>
<circle cx="125.7" cy="680.0" r="2.8" fill="#bdbdbd"/>
<circle cx="144.6" cy="733.8" r="2.8" fill="#bdbdbd"/>
<circle cx="157.2" cy="790.0" r="2.8" fill="#bdbdbd"/>
<circle cx="169.8" cy="800.0" r="2.8" fill="#bdbdbd"/>
<circle cx="188.7" cy="778.0" r="2.8" fill="#bdbdbd"/>
<circle cx="201.3" cy="783.6" r="2.8" fill="#bdbdbd"/>
<circle cx="213.9" cy="771.9" r="2.8" fill="#bdbdbd"/>
<circle cx="232.8" cy="742.3" r="2.8" fill="#bdbdbd"/>
<circle cx="251.7" cy="749.7" r="2.8" fill="#bdbdbd"/>
<circle cx="276.9" cy="774.0" r="2.8" fill="#bdbdbd"/>
<circle cx="321.0" cy="766.0" r="2.8" fill="#bdbdbd"/>
<circle cx="365.1" cy="718.0" r="2.8" fill="#bdbdbd"/>
<rect x="97.8" y="706.3" width="5.4" height="5.4" fill="#bdbdbd"/>
<rect x="110.4" y="697.3" width="5.4" height="5.4" fill="#bdbdbd"/>
<rect x="123.0" y="717.3" width="5.4" height="5.4" fill="#bdbdbd"/>
<rect x="141.9" y="757.3" width="5.4" height="5.4" fill="#bdbdbd"/>
<rect x="154.5" y="797.3" width="5.4" height="5.4" fill="#bdbdbd"/>
<rect x="167.1" y="817.3" width="5.4" height="5.4" fill="#bdbdbd"/>
<rect x="186.0" y="796.7" width="5.4" height="5.4" fill="#bdbdbd"/>
<rect x="198.6" y="826.3" width="5.4" height="5.4" fill="#bdbdbd"/>
<rect x="211.2" y="828.5" width="5.4" height="5.4" fill="#bdbdbd"/>
<rect x="230.1" y="775.6" width="5.4" height="5.4" fill="#bdbdbd"/>
<rect x="249.0" y="758.6" width="5.4" height="5.4" fill="#bdbdbd"/>
<rect x="274.2" y="745.8" width="5.4" height="5.4" fill="#bdbdbd"/>
<rect x="318.3" y="781.4" width="5.4" height="5.4" fill="#bdbdbd"/>
<rect x="362.4" y="781.4" width="5.4" height="5.4" fill="#bdbdbd"/>
<path d="M100.5,705.3 L104.2,709.0 L100.5,712.7 L96.8,709.0Z" fill="#bdbdbd"/>
<path d="M113.1,711.3 L116.8,715.0 L113.1,718.7 L109.4,715.0Z" fill="#bdbdbd"/>
<path d="M125.7,731.3 L129.4,735.0 L125.7,738.7 L122.0,735.0Z" fill="#bdbdbd"/>
<path d="M144.6,776.3 L148.3,780.0 L144.6,783.7 L140.9,780.0Z" fill="#bdbdbd"/>
<path d="M157.2,821.3 L160.9,825.0 L157.2,828.7 L153.5,825.0Z" fill="#bdbdbd"/>
<path d="M169.8,836.3 L173.5,840.0 L169.8,843.7 L166.1,840.0Z" fill="#bdbdbd"/>
<path d="M188.7,796.3 L192.4,800.0 L188.7,803.7 L185.0,800.0Z" fill="#bdbdbd"/>
<path d="M201.3,795.7 L205.0,799.4 L201.3,803.1 L197.6,799.4Z" fill="#bdbdbd"/>
<path d="M213.9,796.3 L217.6,800.0 L213.9,803.7 L210.2,800.0Z" fill="#bdbdbd"/>
<path d="M232.8,783.0 L236.5,786.7 L232.8,790.4 L229.1,786.7Z" fill="#bdbdbd"/>
<path d="M251.7,786.2 L255.4,789.9 L251.7,793.6 L248.0,789.9Z" fill="#bdbdbd"/>
<path d="M276.9,804.2 L280.6,807.9 L276.9,811.6 L273.2,807.9Z" fill="#bdbdbd"/>
<path d="M321.0,811.4 L324.7,815.1 L321.0,818.8 L317.3,815.1Z" fill="#bdbdbd"/>
<path d="M365.1,798.5 L368.8,802.2 L365.1,805.9 L361.4,802.2Z" fill="#bdbdbd"/>
<path d="M100.5,705.5 L104.0,711.6 L97.0,711.6Z" fill="#bdbdbd"/>
<path d="M113.1,721.5 L116.6,727.6 L109.6,727.6Z" fill="#bdbdbd"/>
<path d="M125.7,741.5 L129.2,747.6 L122.2,747.6Z" fill="#bdbdbd"/>
<path d="M144.6,796.5 L148.1,802.6 L141.1,802.6Z" fill="#bdbdbd"/>
<path d="M157.2,836.5 L160.7,842.6 L153.7,842.6Z" fill="#bdbdbd"/>
<path d="M169.8,841.5 L173.3,847.6 L166.3,847.6Z" fill="#bdbdbd"/>
<path d="M188.7,806.5 L192.2,812.6 L185.2,812.6Z" fill="#bdbdbd"/>
<path d="M213.9,816.5 L217.4,822.6 L210.4,822.6Z" fill="#bdbdbd"/>
<path d="M232.8,793.8 L236.3,799.9 L229.3,799.9Z" fill="#bdbdbd"/>
<path d="M251.7,766.5 L255.2,772.6 L248.2,772.6Z" fill="#bdbdbd"/>
<path d="M276.9,771.2 L280.4,777.3 L273.4,777.3Z" fill="#bdbdbd"/>
<path d="M321.0,779.6 L324.5,785.7 L317.5,785.7Z" fill="#bdbdbd"/>
<path d="M365.1,804.7 L368.6,810.8 L361.6,810.8Z" fill="#bdbdbd"/>
<path d="M100.5,705.3 L101.4,707.8 L104.0,707.9 L102.0,709.5 L102.7,712.0 L100.5,710.5 L98.3,712.0 L99.0,709.5 L97.0,707.9 L99.6,707.8Z" fill="#bdbdbd"/>
<path d="M113.1,691.3 L114.0,693.8 L116.6,693.9 L114.6,695.5 L115.3,698.0 L113.1,696.5 L110.9,698.0 L111.6,695.5 L109.6,693.9 L112.2,693.8Z" fill="#bdbdbd"/>
<path d="M125.7,696.3 L126.6,698.8 L129.2,698.9 L127.2,700.5 L127.9,703.0 L125.7,701.5 L123.5,703.0 L124.2,700.5 L122.2,698.9 L124.8,698.8Z" fill="#bdbdbd"/>
<path d="M144.6,746.3 L145.5,748.8 L148.1,748.9 L146.1,750.5 L146.8,753.0 L144.6,751.5 L142.4,753.0 L143.1,750.5 L141.1,748.9 L143.7,748.8Z" fill="#bdbdbd"/>
<path d="M157.2,776.3 L158.1,778.8 L160.7,778.9 L158.7,780.5 L159.4,783.0 L157.2,781.5 L155.0,783.0 L155.7,780.5 L153.7,778.9 L156.3,778.8Z" fill="#bdbdbd"/>
<path d="M169.8,786.3 L170.7,788.8 L173.3,788.9 L171.3,790.5 L172.0,793.0 L169.8,791.5 L167.6,793.0 L168.3,790.5 L166.3,788.9 L168.9,788.8Z" fill="#bdbdbd"/>
<path d="M188.7,766.3 L189.6,768.8 L192.2,768.9 L190.2,770.5 L190.9,773.0 L188.7,771.5 L186.5,773.0 L187.2,770.5 L185.2,768.9 L187.8,768.8Z" fill="#bdbdbd"/>
<path d="M213.9,756.3 L214.8,758.8 L217.4,758.9 L215.4,760.5 L216.1,763.0 L213.9,761.5 L211.7,763.0 L212.4,760.5 L210.4,758.9 L213.0,758.8Z" fill="#bdbdbd"/>
<path d="M232.8,756.3 L233.7,758.8 L236.3,758.9 L234.3,760.5 L235.0,763.0 L232.8,761.5 L230.6,763.0 L231.3,760.5 L229.3,758.9 L231.9,758.8Z" fill="#bdbdbd"/>
<path d="M251.7,736.3 L252.6,738.8 L255.2,738.9 L253.2,740.5 L253.9,743.0 L251.7,741.5 L249.5,743.0 L250.2,740.5 L248.2,738.9 L250.8,738.8Z" fill="#bdbdbd"/>
<path d="M276.9,707.1 L277.8,709.6 L280.4,709.7 L278.4,711.3 L279.1,713.8 L276.9,712.3 L274.7,713.8 L275.4,711.3 L273.4,709.7 L276.0,709.6Z" fill="#bdbdbd"/>
<path d="M321.0,761.2 L321.9,763.7 L324.5,763.8 L322.5,765.4 L323.2,767.9 L321.0,766.4 L318.8,767.9 L319.5,765.4 L317.5,763.8 L320.1,763.7Z" fill="#bdbdbd"/>
<path d="M365.1,766.3 L366.0,768.8 L368.6,768.9 L366.6,770.5 L367.3,773.0 L365.1,771.5 L362.9,773.0 L363.6,770.5 L361.6,768.9 L364.2,768.8Z" fill="#bdbdbd"/>
<path d="M100.5,712.5 L104.0,706.4 L97.0,706.4Z" fill="#bdbdbd"/>
<path d="M113.1,708.5 L116.6,702.4 L109.6,702.4Z" fill="#bdbdbd"/>
<path d="M125.7,693.5 L129.2,687.4 L122.2,687.4Z" fill="#bdbdbd"/>
<path d="M144.6,743.5 L148.1,737.4 L141.1,737.4Z" fill="#bdbdbd"/>
<path d="M157.2,813.5 L160.7,807.4 L153.7,807.4Z" fill="#bdbdbd"/>
<path d="M169.8,833.5 L173.3,827.4 L166.3,827.4Z" fill="#bdbdbd"/>
<path d="M188.7,793.5 L192.2,787.4 L185.2,787.4Z" fill="#bdbdbd"/>
<path d="M213.9,808.5 L217.4,802.4 L210.4,802.4Z" fill="#bdbdbd"/>
<path d="M232.8,773.5 L236.3,767.4 L229.3,767.4Z" fill="#bdbdbd"/>
<path d="M251.7,803.5 L255.2,797.4 L248.2,797.4Z" fill="#bdbdbd"/>
<path d="M276.9,793.5 L280.4,787.4 L273.4,787.4Z" fill="#bdbdbd"/>
<path d="M321.0,803.5 L324.5,797.4 L317.5,797.4Z" fill="#bdbdbd"/>
<path d="M365.1,793.5 L368.6,787.4 L361.6,787.4Z" fill="#bdbdbd"/>
<circle cx="411.3" cy="756.0" r="2.8" fill="#bdbdbd"/>
<rect x="408.6" y="757.3" width="5.4" height="5.4" fill="#bdbdbd"/>
<circle cx="411.3" cy="763.7" r="2.8" fill="#bdbdbd"/>
<path d="M411.3,781.6 L415.0,785.3 L411.3,789.0 L407.6,785.3Z" fill="#bdbdbd"/>
<path d="M112.5,253.0 C113.8,248.5 118.2,233.2 120.5,226.0 C122.8,218.8 124.5,215.3 126.0,210.0 C127.5,204.7 128.4,199.5 129.5,194.0 C130.6,188.5 131.5,183.0 132.5,177.0 C133.5,171.0 134.6,164.5 135.5,158.0 C136.4,151.5 137.0,145.3 137.8,138.0 C138.6,130.7 139.4,121.3 140.2,114.0 C141.0,106.7 141.9,100.7 142.8,94.0 C143.7,87.3 144.5,79.4 145.5,73.8 C146.5,68.2 147.8,64.0 148.9,60.4 C150.0,56.8 150.6,55.3 152.2,52.3 C153.8,49.3 156.3,45.3 158.3,42.2 C160.3,39.1 162.7,35.4 164.3,33.5 C165.9,31.6 166.1,30.4 167.7,30.8 C169.3,31.2 171.8,33.7 173.8,36.2 C175.8,38.7 177.8,42.7 179.8,45.6 C181.8,48.5 184.0,51.9 185.9,53.6 C187.8,55.3 189.4,55.5 191.3,55.7 C193.2,55.9 193.6,56.0 197.3,55.0 C201.1,54.0 208.5,46.2 213.8,50.0 C219.1,53.8 224.1,70.8 229.2,77.7 C234.3,84.6 239.5,87.4 244.6,91.5 C249.7,95.6 254.7,99.6 260.0,102.3 C265.3,105.0 269.5,107.9 276.5,107.6 C283.5,107.3 294.1,103.6 302.0,100.3 C309.9,97.0 316.1,89.0 324.0,87.5 C331.9,86.0 339.9,89.7 349.6,91.2 C359.3,92.7 376.6,95.7 382.0,96.6" fill="none" stroke="#000" stroke-width="4.0" stroke-dasharray="6 3.6" clip-path="url(#cA)"/>
<path d="M392.0,113.1 C397.1,113.1 417.4,113.1 422.5,113.1" fill="none" stroke="#000" stroke-width="4.0" stroke-dasharray="6 3.6" clip-path="url(#cA)"/>
<path d="M137.6,253.0 C137.9,248.3 139.0,232.8 139.6,225.0 C140.2,217.2 140.6,212.8 141.4,206.0 C142.2,199.2 143.6,191.0 144.6,184.0 C145.6,177.0 146.7,169.8 147.6,164.0 C148.5,158.2 149.0,154.0 149.8,149.0 C150.6,144.0 151.3,138.8 152.3,134.0 C153.3,129.2 154.7,125.3 155.7,120.0 C156.7,114.7 157.5,106.8 158.2,102.0 C158.8,97.2 158.8,95.3 159.6,91.3 C160.4,87.3 162.1,82.0 163.0,77.9 C163.9,73.9 164.3,70.2 165.0,67.0 C165.7,63.9 166.2,61.8 167.0,59.0 C167.8,56.2 168.8,52.1 169.7,50.3 C170.6,48.5 170.8,47.5 172.4,48.3 C174.0,49.1 176.6,52.3 179.1,55.0 C181.6,57.7 184.5,61.6 187.2,64.4 C189.9,67.2 191.6,73.4 195.3,71.8 C199.0,70.2 205.6,57.0 209.2,54.6 C212.8,52.2 213.2,50.6 217.0,57.7 C220.8,64.8 225.5,86.8 232.3,97.0 C239.1,107.2 250.6,113.5 258.0,118.6 C265.4,123.7 269.8,128.0 276.5,127.7 C283.2,127.4 291.2,121.6 298.5,116.7 C305.8,111.8 313.1,98.5 320.4,98.5 C327.7,98.5 335.6,111.2 342.3,116.7 C349.0,122.2 354.0,127.3 360.6,131.3 C367.2,135.3 378.4,139.0 382.0,140.5" fill="none" stroke="#bdbdbd" stroke-width="3.6" stroke-dasharray="6 3.6" clip-path="url(#cA)"/>
<path d="M392.0,162.0 C397.1,162.5 417.4,164.5 422.5,165.0" fill="none" stroke="#bdbdbd" stroke-width="3.6" stroke-dasharray="6 3.6" clip-path="url(#cA)"/>
<path d="M108.0,866.0 C109.2,863.3 112.8,854.8 115.0,850.0 C117.2,845.2 119.4,843.2 121.0,837.0 C122.6,830.8 123.5,819.2 124.6,813.0 C125.7,806.8 126.6,805.0 127.4,800.0 C128.2,795.0 128.3,789.3 129.2,783.0 C130.1,776.7 131.8,769.2 132.9,762.0 C134.0,754.8 134.7,747.0 135.6,740.0 C136.5,733.0 137.5,726.2 138.4,720.0 C139.3,713.8 140.0,708.8 141.2,703.0 C142.4,697.2 143.5,692.1 145.6,685.4 C147.7,678.6 150.5,668.8 153.7,662.5 C156.8,656.2 161.0,648.8 164.5,647.5 C168.0,646.2 171.4,650.9 174.9,654.6 C178.4,658.4 182.1,667.4 185.7,670.0 C189.3,672.6 192.9,670.8 196.5,670.0 C200.1,669.2 203.9,665.6 207.2,665.4 C210.5,665.1 213.7,664.1 216.5,668.5 C219.3,672.9 221.4,686.1 224.2,691.5 C227.0,696.9 229.8,698.0 233.4,700.8 C237.0,703.6 241.6,706.5 245.7,708.5 C249.8,710.5 255.0,711.4 258.0,713.0 C261.0,714.6 259.2,716.9 263.5,718.2 C267.8,719.5 277.0,721.9 283.7,720.9 C290.4,719.9 296.6,715.4 303.9,712.5 C311.2,709.6 319.5,704.4 327.4,703.4 C335.2,702.4 341.6,705.3 351.0,706.7 C360.4,708.1 378.5,711.1 384.0,712.0" fill="none" stroke="#000" stroke-width="4.0" stroke-dasharray="6 3.6" clip-path="url(#cC)"/>
<path d="M395.0,727.2 C400.0,727.2 420.0,727.2 425.0,727.2" fill="none" stroke="#000" stroke-width="4.0" stroke-dasharray="6 3.6" clip-path="url(#cC)"/>
<path d="M134.5,866.0 C134.8,862.7 135.9,852.0 136.6,846.0 C137.2,840.0 137.8,835.2 138.4,830.0 C139.0,824.8 139.4,820.3 140.2,815.0 C141.0,809.7 142.2,803.5 143.0,798.0 C143.8,792.5 144.0,787.3 144.8,782.0 C145.6,776.7 146.7,771.3 147.6,766.0 C148.5,760.7 149.6,755.2 150.4,750.0 C151.2,744.8 151.4,739.7 152.2,735.0 C153.0,730.3 154.1,726.8 155.0,722.0 C155.9,717.2 156.9,710.3 157.7,706.0 C158.5,701.7 159.0,699.3 159.7,696.0 C160.4,692.7 161.3,689.5 162.0,686.0 C162.7,682.5 163.1,678.3 164.0,675.0 C164.9,671.7 166.2,668.3 167.5,666.0 C168.8,663.7 170.5,661.3 172.0,661.0 C173.5,660.7 174.4,661.7 176.6,664.0 C178.8,666.3 182.2,671.2 185.0,675.0 C187.8,678.8 190.2,686.7 193.4,686.9 C196.6,687.1 200.9,679.3 204.2,676.2 C207.5,673.1 210.3,665.4 213.4,668.5 C216.5,671.6 219.8,687.7 222.6,694.6 C225.4,701.5 227.0,707.2 230.3,710.0 C233.6,712.8 238.0,710.2 242.6,711.5 C247.2,712.8 254.0,713.3 258.0,717.7 C262.0,722.1 262.5,734.9 266.8,737.7 C271.1,740.5 277.5,736.8 283.7,734.3 C289.9,731.8 297.7,726.1 303.9,722.6 C310.1,719.1 315.1,713.0 320.7,713.5 C326.3,714.0 331.3,721.3 337.5,725.9 C343.7,730.5 349.9,736.1 357.7,741.0 C365.4,745.9 379.6,753.1 384.0,755.5" fill="none" stroke="#bdbdbd" stroke-width="3.6" stroke-dasharray="6 3.6" clip-path="url(#cC)"/>
<path d="M395.0,775.0 C400.0,775.1 420.0,775.4 425.0,775.5" fill="none" stroke="#bdbdbd" stroke-width="3.6" stroke-dasharray="6 3.6" clip-path="url(#cC)"/>
<path d="M101.5,154.6 C105.7,131.7 119.2,10.9 126.5,16.9 C133.8,22.9 140.0,154.4 145.2,190.4 C150.5,226.4 153.6,223.1 157.8,233.0 C161.9,242.9 165.0,248.5 170.2,250.0 C175.5,251.5 183.8,243.3 189.0,242.0 C194.2,240.7 197.3,242.7 201.5,242.4 C205.7,242.2 208.8,241.2 214.0,240.5 C219.2,239.8 222.3,239.8 232.8,238.0 C243.2,236.2 261.9,238.1 276.5,229.4 C291.1,220.7 305.7,193.9 320.2,186.0 C334.8,178.1 354.0,182.7 364.0,181.7 C374.0,180.7 377.8,180.3 380.5,180.0" fill="none" stroke="#000" stroke-width="1.15" stroke-linejoin="round" clip-path="url(#cA)"/>
<path d="M101.5,206.0 C105.7,192.1 119.2,120.0 126.5,122.7 C133.8,125.4 140.0,203.1 145.2,222.0 C150.5,240.9 153.6,234.7 157.8,236.0 C161.9,237.3 165.0,231.3 170.2,230.0 C175.5,228.7 181.7,229.7 189.0,228.0 C196.3,226.3 206.7,221.7 214.0,220.0 C221.3,218.3 222.3,213.8 232.8,217.6 C243.2,221.4 261.9,242.2 276.5,243.0 C291.1,243.8 305.7,230.1 320.2,222.3 C334.8,214.5 354.0,200.4 364.0,196.0 C374.0,191.6 377.8,196.0 380.5,196.0" fill="none" stroke="#000" stroke-width="1.15" stroke-linejoin="round" clip-path="url(#cA)"/>
<path d="M101.5,193.8 C105.7,186.3 119.2,144.0 126.5,148.7 C133.8,153.4 140.0,206.8 145.2,222.0 C150.5,237.2 153.6,237.2 157.8,240.0 C161.9,242.8 165.0,241.0 170.2,239.0 C175.5,237.0 181.7,232.0 189.0,228.0 C196.3,224.0 206.7,219.2 214.0,215.0 C221.3,210.8 222.3,198.7 232.8,202.9 C243.2,207.1 261.9,240.0 276.5,240.0 C291.1,240.0 305.7,214.5 320.2,203.0 C334.8,191.5 354.0,176.0 364.0,171.0 C374.0,166.0 377.8,172.7 380.5,173.0" fill="none" stroke="#000" stroke-width="1.15" stroke-linejoin="round" clip-path="url(#cA)"/>
<path d="M101.5,199.0 C105.7,194.8 119.2,170.7 126.5,174.0 C133.8,177.3 140.0,209.7 145.2,219.0 C150.5,228.3 153.6,228.4 157.8,229.7 C161.9,231.0 165.0,228.3 170.2,227.0 C175.5,225.7 181.7,222.3 189.0,222.0 C196.3,221.7 206.7,225.8 214.0,225.0 C221.3,224.2 222.3,213.3 232.8,217.0 C243.2,220.7 261.9,247.1 276.5,247.0 C291.1,246.9 305.7,220.6 320.2,216.2 C334.8,211.8 354.0,220.0 364.0,220.8 C374.0,221.6 377.8,221.0 380.5,221.0" fill="none" stroke="#000" stroke-width="1.15" stroke-linejoin="round" clip-path="url(#cA)"/>
<path d="M101.5,211.2 C105.7,207.1 119.2,184.4 126.5,186.7 C133.8,189.0 140.0,215.9 145.2,225.0 C150.5,234.1 153.6,265.0 157.8,241.0 C161.9,217.0 165.0,83.7 170.2,80.8 C175.5,77.9 181.7,199.3 189.0,223.5 C196.3,247.7 206.7,225.7 214.0,226.0 C221.3,226.3 222.3,222.1 232.8,225.4 C243.2,228.7 261.9,243.9 276.5,246.0 C291.1,248.1 305.7,239.9 320.2,237.7 C334.8,235.5 354.0,233.8 364.0,233.0 C374.0,232.2 377.8,233.0 380.5,233.0" fill="none" stroke="#000" stroke-width="1.15" stroke-linejoin="round" clip-path="url(#cA)"/>
<path d="M101.5,185.0 C105.7,187.5 119.2,192.8 126.5,200.0 C133.8,207.2 140.0,222.0 145.2,228.0 C150.5,234.0 153.6,233.6 157.8,236.0 C161.9,238.4 165.0,250.1 170.2,242.7 C175.5,235.3 181.7,195.0 189.0,191.6 C196.3,188.2 206.7,223.3 214.0,222.0 C221.3,220.7 222.3,181.1 232.8,183.8 C243.2,186.5 261.9,233.6 276.5,238.0 C291.1,242.4 305.7,217.0 320.2,210.0 C334.8,203.0 354.0,198.5 364.0,196.2 C374.0,193.9 377.8,196.0 380.5,196.0" fill="none" stroke="#000" stroke-width="1.15" stroke-linejoin="round" clip-path="url(#cA)"/>
<line x1="386.9" y1="90.3" x2="379.8" y2="105" stroke="#000" stroke-width="2.2"/>
<line x1="394.8" y1="105.6" x2="387.8" y2="120.6" stroke="#000" stroke-width="2.2"/>
<path d="M106.0,562.0 C107.3,557.4 110.2,544.7 113.6,534.2 C116.9,523.7 120.9,514.9 126.2,499.2 C131.4,483.5 139.8,456.1 145.0,440.0 C150.3,423.9 153.4,412.5 157.6,402.3 C161.8,392.1 164.9,375.8 170.2,378.7 C175.4,381.6 181.7,412.0 189.1,419.5 C196.4,427.0 206.9,419.2 214.2,423.8 C221.6,428.4 222.6,433.9 233.1,447.1 C243.6,460.3 262.4,499.8 277.1,502.8 C291.8,505.8 306.5,468.5 321.1,465.0 C335.8,461.5 354.8,478.8 365.2,482.0 C375.5,485.2 380.3,484.0 383.3,484.4" fill="none" stroke="#000" stroke-width="1.15" stroke-linejoin="round" clip-path="url(#cB)"/>
<path d="M108.5,562.0 C109.4,560.7 110.6,559.3 113.6,554.0 C116.5,548.7 120.9,556.8 126.2,530.0 C131.4,503.2 139.8,420.3 145.0,393.1 C150.3,365.9 153.4,370.7 157.6,367.0 C161.8,363.3 164.9,364.7 170.2,371.0 C175.4,377.3 181.7,402.9 189.1,405.0 C196.4,407.1 206.9,384.4 214.2,383.5 C221.6,382.6 222.6,396.9 233.1,399.5 C243.6,402.1 262.4,396.6 277.1,399.0 C291.8,401.4 306.5,413.2 321.1,413.9 C335.8,414.6 354.8,404.6 365.2,403.0 C375.5,401.4 380.3,403.8 383.3,404.0" fill="none" stroke="#000" stroke-width="1.15" stroke-linejoin="round" clip-path="url(#cB)"/>
<path d="M106.0,562.0 C107.3,554.2 110.2,521.9 113.6,515.0 C116.9,508.1 120.9,538.9 126.2,520.8 C131.4,502.7 139.8,428.2 145.0,406.2 C150.3,384.1 153.4,397.1 157.6,388.5 C161.8,379.9 164.9,350.8 170.2,354.6 C175.4,358.4 181.7,404.9 189.1,411.2 C196.4,417.4 206.9,389.8 214.2,392.1 C221.6,394.4 222.6,410.8 233.1,424.9 C243.6,439.0 262.4,474.3 277.1,476.7 C291.8,479.1 306.5,451.2 321.1,439.4 C335.8,427.6 354.8,411.7 365.2,405.8 C375.5,399.9 380.3,404.3 383.3,404.0" fill="none" stroke="#000" stroke-width="1.15" stroke-linejoin="round" clip-path="url(#cB)"/>
<path d="M107.3,562.0 C108.3,559.1 110.4,549.6 113.6,544.7 C116.7,539.9 120.9,554.6 126.2,532.9 C131.4,511.2 139.8,439.2 145.0,414.6 C150.3,390.0 153.4,393.7 157.6,385.0 C161.8,376.3 164.9,362.1 170.2,362.3 C175.4,362.5 181.7,381.7 189.1,386.3 C196.4,390.9 206.9,386.7 214.2,390.0 C221.6,393.3 222.6,402.7 233.1,405.9 C243.6,409.1 262.4,415.5 277.1,409.0 C291.8,402.5 306.5,365.4 321.1,366.7 C335.8,368.0 354.8,407.8 365.2,417.0 C375.5,426.2 380.3,421.2 383.3,422.0" fill="none" stroke="#000" stroke-width="1.15" stroke-linejoin="round" clip-path="url(#cB)"/>
<path d="M110.4,562.0 C111.0,560.0 111.0,556.1 113.6,550.0 C116.2,543.9 120.9,544.0 126.2,525.5 C131.4,507.0 139.8,460.9 145.0,439.2 C150.3,417.4 153.4,405.6 157.6,395.0 C161.8,384.4 164.9,374.2 170.2,375.8 C175.4,377.4 181.7,404.7 189.1,404.8 C196.4,404.9 206.9,372.6 214.2,376.7 C221.6,380.8 222.6,419.3 233.1,429.1 C243.6,438.9 262.4,438.7 277.1,435.5 C291.8,432.3 306.5,409.4 321.1,409.8 C335.8,410.2 354.8,432.6 365.2,438.0 C375.5,443.4 380.3,441.3 383.3,442.0" fill="none" stroke="#000" stroke-width="1.15" stroke-linejoin="round" clip-path="url(#cB)"/>
<path d="M111.1,562.0 C111.5,560.3 111.1,557.7 113.6,552.0 C116.1,546.3 120.9,551.7 126.2,528.0 C131.4,504.3 139.8,434.5 145.0,410.0 C150.3,385.5 153.4,387.6 157.6,381.0 C161.8,374.4 164.9,371.9 170.2,370.4 C175.4,368.9 181.7,370.9 189.1,372.0 C196.4,373.1 206.9,371.2 214.2,376.7 C221.6,382.2 222.6,399.5 233.1,405.0 C243.6,410.5 262.4,408.7 277.1,409.5 C291.8,410.3 306.5,404.1 321.1,410.0 C335.8,415.9 354.8,438.6 365.2,444.8 C375.5,451.0 380.3,446.6 383.3,447.0" fill="none" stroke="#000" stroke-width="1.15" stroke-linejoin="round" clip-path="url(#cB)"/>
<path d="M100.5,709.0 C102.6,706.5 108.9,700.7 113.1,693.7 C117.3,686.7 120.5,652.5 125.7,666.9 C130.9,681.3 139.3,756.9 144.6,780.0 C149.8,803.1 153.0,800.6 157.2,805.4 C161.4,810.1 164.6,811.5 169.8,808.5 C175.1,805.5 181.3,791.1 188.7,787.2 C196.0,783.3 206.5,784.5 213.9,785.0 C221.2,785.5 222.3,788.0 232.8,790.0 C243.3,792.0 262.2,793.6 276.9,797.3 C291.6,801.0 306.3,808.8 321.0,812.0 C335.7,815.2 354.7,816.0 365.1,816.6 C375.5,817.2 380.4,815.6 383.5,815.4" fill="none" stroke="#000" stroke-width="1.15" stroke-linejoin="round" clip-path="url(#cC)"/>
<path d="M100.5,709.0 C102.6,708.1 108.9,705.3 113.1,703.8 C117.3,702.3 120.5,689.0 125.7,700.0 C130.9,711.0 139.3,752.7 144.6,770.0 C149.8,787.3 153.0,803.3 157.2,803.8 C161.4,804.3 164.6,780.5 169.8,773.0 C175.1,765.5 181.3,758.1 188.7,758.8 C196.0,759.5 206.5,781.7 213.9,777.2 C221.2,772.7 222.3,735.4 232.8,731.7 C243.3,728.0 262.2,747.5 276.9,755.0 C291.6,762.5 306.3,778.5 321.0,776.4 C335.7,774.2 354.7,747.8 365.1,742.1 C375.5,736.4 380.4,742.1 383.5,742.1" fill="none" stroke="#000" stroke-width="1.15" stroke-linejoin="round" clip-path="url(#cC)"/>
<path d="M100.5,709.0 C102.6,718.1 108.9,758.2 113.1,763.8 C117.3,769.3 120.5,736.9 125.7,742.3 C130.9,747.7 139.3,780.4 144.6,796.0 C149.8,811.6 153.0,832.8 157.2,836.2 C161.4,839.6 164.6,820.3 169.8,816.2 C175.1,812.1 181.3,816.1 188.7,811.5 C196.0,806.9 206.5,801.9 213.9,788.4 C221.2,774.9 222.3,740.1 232.8,730.7 C243.3,721.3 262.2,729.9 276.9,732.2 C291.6,734.5 306.3,740.2 321.0,744.5 C335.7,748.8 354.7,755.9 365.1,758.2 C375.5,760.5 380.4,758.2 383.5,758.2" fill="none" stroke="#000" stroke-width="1.15" stroke-linejoin="round" clip-path="url(#cC)"/>
<path d="M100.5,709.0 C102.6,712.5 108.9,719.1 113.1,730.0 C117.3,740.9 120.5,762.9 125.7,774.6 C130.9,786.3 139.3,797.2 144.6,800.0 C149.8,802.8 153.0,792.7 157.2,791.5 C161.4,790.3 164.6,802.8 169.8,793.0 C175.1,783.2 181.3,739.5 188.7,732.8 C196.0,726.0 206.5,746.0 213.9,752.5 C221.2,759.0 222.3,766.9 232.8,771.9 C243.3,776.9 262.2,775.8 276.9,782.5 C291.6,789.2 306.3,813.2 321.0,812.0 C335.7,810.8 354.7,781.7 365.1,775.2 C375.5,768.8 380.4,773.6 383.5,773.3" fill="none" stroke="#000" stroke-width="1.15" stroke-linejoin="round" clip-path="url(#cC)"/>
<path d="M100.5,709.0 C102.6,716.1 108.9,751.1 113.1,751.5 C117.3,751.9 120.5,701.0 125.7,711.5 C130.9,722.0 139.3,795.9 144.6,814.6 C149.8,833.3 153.0,827.9 157.2,823.8 C161.4,819.7 164.6,802.8 169.8,790.0 C175.1,777.2 181.3,751.8 188.7,747.0 C196.0,742.2 206.5,758.5 213.9,761.3 C221.2,764.0 222.3,762.0 232.8,763.5 C243.3,765.0 262.2,762.2 276.9,770.0 C291.6,777.8 306.3,810.6 321.0,810.0 C335.7,809.4 354.7,773.6 365.1,766.1 C375.5,758.6 380.4,765.1 383.5,764.9" fill="none" stroke="#000" stroke-width="1.15" stroke-linejoin="round" clip-path="url(#cC)"/>
<path d="M100.5,709.0 C102.6,714.2 108.9,737.3 113.1,740.0 C117.3,742.7 120.5,716.2 125.7,725.0 C130.9,733.8 139.3,778.8 144.6,793.0 C149.8,807.2 153.0,817.4 157.2,810.0 C161.4,802.6 164.6,755.6 169.8,748.5 C175.1,741.4 181.3,765.4 188.7,767.3 C196.0,769.2 206.5,761.9 213.9,760.0 C221.2,758.1 222.3,756.6 232.8,756.1 C243.3,755.6 262.2,753.7 276.9,757.1 C291.6,760.5 306.3,778.9 321.0,776.4 C335.7,773.9 354.7,747.4 365.1,742.1 C375.5,736.8 380.4,744.1 383.5,744.5" fill="none" stroke="#000" stroke-width="1.15" stroke-linejoin="round" clip-path="url(#cC)"/>
<line x1="390.9" y1="703.6" x2="384.1" y2="718" stroke="#000" stroke-width="2.2"/>
<line x1="398.6" y1="721.6" x2="391.8" y2="736" stroke="#000" stroke-width="2.2"/>
<circle cx="101.5" cy="154.6" r="3.2" fill="#000"/>
<circle cx="126.5" cy="16.9" r="3.2" fill="#000"/>
<circle cx="145.2" cy="190.4" r="3.2" fill="#000"/>
<circle cx="157.8" cy="233.0" r="3.2" fill="#000"/>
<circle cx="170.2" cy="250.0" r="3.2" fill="#000"/>
<circle cx="189.0" cy="242.0" r="3.2" fill="#000"/>
<circle cx="201.5" cy="242.4" r="3.2" fill="#000"/>
<circle cx="214.0" cy="240.5" r="3.2" fill="#000"/>
<circle cx="276.5" cy="229.4" r="3.2" fill="#000"/>
<circle cx="320.2" cy="186.0" r="3.2" fill="#000"/>
<circle cx="364.0" cy="181.7" r="3.2" fill="#000"/>
<path d="M101.5,201.8 L102.5,204.6 L105.5,204.7 L103.2,206.5 L103.9,209.4 L101.5,207.7 L99.1,209.4 L99.8,206.5 L97.5,204.7 L100.5,204.6Z" fill="#000"/>
<path d="M126.5,118.5 L127.5,121.3 L130.5,121.4 L128.2,123.2 L128.9,126.1 L126.5,124.4 L124.1,126.1 L124.8,123.2 L122.5,121.4 L125.5,121.3Z" fill="#000"/>
<path d="M145.2,217.8 L146.3,220.6 L149.2,220.7 L146.9,222.5 L147.7,225.4 L145.2,223.7 L142.8,225.4 L143.6,222.5 L141.3,220.7 L144.2,220.6Z" fill="#000"/>
<path d="M157.8,231.8 L158.8,234.6 L161.7,234.7 L159.4,236.5 L160.2,239.4 L157.8,237.7 L155.3,239.4 L156.1,236.5 L153.8,234.7 L156.7,234.6Z" fill="#000"/>
<path d="M170.2,225.8 L171.3,228.6 L174.2,228.7 L171.9,230.5 L172.7,233.4 L170.2,231.7 L167.8,233.4 L168.6,230.5 L166.3,228.7 L169.2,228.6Z" fill="#000"/>
<path d="M189.0,223.8 L190.0,226.6 L193.0,226.7 L190.7,228.5 L191.4,231.4 L189.0,229.7 L186.6,231.4 L187.3,228.5 L185.0,226.7 L188.0,226.6Z" fill="#000"/>
<path d="M214.0,215.8 L215.0,218.6 L218.0,218.7 L215.7,220.5 L216.4,223.4 L214.0,221.7 L211.6,223.4 L212.3,220.5 L210.0,218.7 L213.0,218.6Z" fill="#000"/>
<path d="M232.8,213.4 L233.8,216.2 L236.7,216.3 L234.4,218.1 L235.2,221.0 L232.8,219.3 L230.3,221.0 L231.1,218.1 L228.8,216.3 L231.7,216.2Z" fill="#000"/>
<path d="M276.5,238.8 L277.5,241.6 L280.5,241.7 L278.2,243.5 L278.9,246.4 L276.5,244.7 L274.1,246.4 L274.8,243.5 L272.5,241.7 L275.5,241.6Z" fill="#000"/>
<path d="M320.2,218.1 L321.3,220.9 L324.2,221.0 L321.9,222.8 L322.7,225.7 L320.2,224.0 L317.8,225.7 L318.6,222.8 L316.3,221.0 L319.2,220.9Z" fill="#000"/>
<path d="M364.0,191.8 L365.0,194.6 L368.0,194.7 L365.7,196.5 L366.4,199.4 L364.0,197.7 L361.6,199.4 L362.3,196.5 L360.0,194.7 L363.0,194.6Z" fill="#000"/>
<rect x="98.5" y="190.8" width="6.1" height="6.1" fill="#000"/>
<rect x="123.5" y="145.7" width="6.1" height="6.1" fill="#000"/>
<rect x="142.2" y="219.0" width="6.1" height="6.1" fill="#000"/>
<rect x="154.7" y="237.0" width="6.1" height="6.1" fill="#000"/>
<rect x="167.2" y="236.0" width="6.1" height="6.1" fill="#000"/>
<rect x="186.0" y="225.0" width="6.1" height="6.1" fill="#000"/>
<rect x="211.0" y="212.0" width="6.1" height="6.1" fill="#000"/>
<rect x="229.7" y="199.9" width="6.1" height="6.1" fill="#000"/>
<rect x="273.5" y="237.0" width="6.1" height="6.1" fill="#000"/>
<rect x="317.2" y="200.0" width="6.1" height="6.1" fill="#000"/>
<rect x="361.0" y="168.0" width="6.1" height="6.1" fill="#000"/>
<path d="M101.5,203.0 L105.5,196.0 L97.5,196.0Z" fill="#000"/>
<path d="M126.5,178.0 L130.5,171.0 L122.5,171.0Z" fill="#000"/>
<path d="M145.2,223.0 L149.2,216.0 L141.2,216.0Z" fill="#000"/>
<path d="M157.8,233.7 L161.8,226.7 L153.8,226.7Z" fill="#000"/>
<path d="M170.2,231.0 L174.2,224.0 L166.2,224.0Z" fill="#000"/>
<path d="M189.0,226.0 L193.0,219.0 L185.0,219.0Z" fill="#000"/>
<path d="M214.0,229.0 L218.0,222.0 L210.0,222.0Z" fill="#000"/>
<path d="M232.8,221.0 L236.8,214.0 L228.8,214.0Z" fill="#000"/>
<path d="M276.5,251.0 L280.5,244.0 L272.5,244.0Z" fill="#000"/>
<path d="M320.2,220.2 L324.2,213.2 L316.2,213.2Z" fill="#000"/>
<path d="M364.0,224.8 L368.0,217.8 L360.0,217.8Z" fill="#000"/>
<path d="M101.5,207.0 L105.7,211.2 L101.5,215.4 L97.3,211.2Z" fill="#000"/>
<path d="M126.5,182.5 L130.7,186.7 L126.5,190.9 L122.3,186.7Z" fill="#000"/>
<path d="M145.2,220.8 L149.4,225.0 L145.2,229.2 L141.1,225.0Z" fill="#000"/>
<path d="M157.8,236.8 L161.9,241.0 L157.8,245.2 L153.6,241.0Z" fill="#000"/>
<path d="M170.2,76.6 L174.4,80.8 L170.2,85.0 L166.1,80.8Z" fill="#000"/>
<path d="M189.0,219.3 L193.2,223.5 L189.0,227.7 L184.8,223.5Z" fill="#000"/>
<path d="M214.0,221.8 L218.2,226.0 L214.0,230.2 L209.8,226.0Z" fill="#000"/>
<path d="M232.8,221.2 L236.9,225.4 L232.8,229.6 L228.6,225.4Z" fill="#000"/>
<path d="M276.5,241.8 L280.7,246.0 L276.5,250.2 L272.3,246.0Z" fill="#000"/>
<path d="M320.2,233.5 L324.4,237.7 L320.2,241.9 L316.1,237.7Z" fill="#000"/>
<path d="M364.0,228.8 L368.2,233.0 L364.0,237.2 L359.8,233.0Z" fill="#000"/>
<path d="M101.5,181.0 L105.5,188.0 L97.5,188.0Z" fill="#000"/>
<path d="M145.2,224.0 L149.2,231.0 L141.2,231.0Z" fill="#000"/>
<path d="M157.8,232.0 L161.8,239.0 L153.8,239.0Z" fill="#000"/>
<path d="M170.2,238.7 L174.2,245.7 L166.2,245.7Z" fill="#000"/>
<path d="M189.0,187.6 L193.0,194.6 L185.0,194.6Z" fill="#000"/>
<path d="M214.0,218.0 L218.0,225.0 L210.0,225.0Z" fill="#000"/>
<path d="M232.8,179.8 L236.8,186.8 L228.8,186.8Z" fill="#000"/>
<path d="M276.5,234.0 L280.5,241.0 L272.5,241.0Z" fill="#000"/>
<path d="M320.2,206.0 L324.2,213.0 L316.2,213.0Z" fill="#000"/>
<path d="M364.0,192.2 L368.0,199.2 L360.0,199.2Z" fill="#000"/>
<circle cx="408.6" cy="180.4" r="3.2" fill="#000"/>
<path d="M408.6,196.2 L409.6,199.0 L412.6,199.1 L410.3,200.9 L411.0,203.8 L408.6,202.1 L406.2,203.8 L406.9,200.9 L404.6,199.1 L407.6,199.0Z" fill="#000"/>
<rect x="405.6" y="212.0" width="6.1" height="6.1" fill="#000"/>
<path d="M408.6,226.3 L412.6,219.3 L404.6,219.3Z" fill="#000"/>
<path d="M408.6,232.2 L412.8,236.4 L408.6,240.6 L404.4,236.4Z" fill="#000"/>
<circle cx="113.6" cy="534.2" r="3.2" fill="#000"/>
<circle cx="126.2" cy="499.2" r="3.2" fill="#000"/>
<circle cx="145.0" cy="440.0" r="3.2" fill="#000"/>
<circle cx="157.6" cy="402.3" r="3.2" fill="#000"/>
<circle cx="170.2" cy="378.7" r="3.2" fill="#000"/>
<circle cx="189.1" cy="419.5" r="3.2" fill="#000"/>
<circle cx="214.2" cy="423.8" r="3.2" fill="#000"/>
<circle cx="233.1" cy="447.1" r="3.2" fill="#000"/>
<circle cx="277.1" cy="502.8" r="3.2" fill="#000"/>
<circle cx="321.1" cy="465.0" r="3.2" fill="#000"/>
<circle cx="365.2" cy="482.0" r="3.2" fill="#000"/>
<path d="M113.6,549.8 L114.6,552.6 L117.5,552.7 L115.2,554.5 L116.0,557.4 L113.6,555.7 L111.1,557.4 L111.9,554.5 L109.6,552.7 L112.6,552.6Z" fill="#000"/>
<path d="M126.2,525.8 L127.2,528.6 L130.1,528.7 L127.8,530.5 L128.6,533.4 L126.2,531.7 L123.7,533.4 L124.5,530.5 L122.2,528.7 L125.1,528.6Z" fill="#000"/>
<path d="M145.0,388.9 L146.1,391.7 L149.0,391.8 L146.7,393.6 L147.5,396.5 L145.0,394.8 L142.6,396.5 L143.4,393.6 L141.1,391.8 L144.0,391.7Z" fill="#000"/>
<path d="M157.6,362.8 L158.6,365.6 L161.6,365.7 L159.3,367.5 L160.1,370.4 L157.6,368.7 L155.2,370.4 L155.9,367.5 L153.7,365.7 L156.6,365.6Z" fill="#000"/>
<path d="M170.2,366.8 L171.2,369.6 L174.1,369.7 L171.9,371.5 L172.6,374.4 L170.2,372.7 L167.7,374.4 L168.5,371.5 L166.2,369.7 L169.2,369.6Z" fill="#000"/>
<path d="M189.1,400.8 L190.1,403.6 L193.0,403.7 L190.7,405.5 L191.5,408.4 L189.1,406.7 L186.6,408.4 L187.4,405.5 L185.1,403.7 L188.0,403.6Z" fill="#000"/>
<path d="M214.2,379.3 L215.2,382.1 L218.2,382.2 L215.9,384.0 L216.7,386.9 L214.2,385.2 L211.8,386.9 L212.6,384.0 L210.3,382.2 L213.2,382.1Z" fill="#000"/>
<path d="M233.1,395.3 L234.1,398.1 L237.0,398.2 L234.8,400.0 L235.5,402.9 L233.1,401.2 L230.6,402.9 L231.4,400.0 L229.1,398.2 L232.1,398.1Z" fill="#000"/>
<path d="M277.1,394.8 L278.1,397.6 L281.1,397.7 L278.8,399.5 L279.6,402.4 L277.1,400.7 L274.7,402.4 L275.5,399.5 L273.2,397.7 L276.1,397.6Z" fill="#000"/>
<path d="M321.1,409.7 L322.2,412.5 L325.1,412.6 L322.8,414.4 L323.6,417.3 L321.1,415.6 L318.7,417.3 L319.5,414.4 L317.2,412.6 L320.1,412.5Z" fill="#000"/>
<path d="M365.2,398.8 L366.2,401.6 L369.1,401.7 L366.8,403.5 L367.6,406.4 L365.2,404.7 L362.7,406.4 L363.5,403.5 L361.2,401.7 L364.2,401.6Z" fill="#000"/>
<rect x="110.5" y="512.0" width="6.1" height="6.1" fill="#000"/>
<rect x="123.1" y="517.8" width="6.1" height="6.1" fill="#000"/>
<rect x="142.0" y="403.2" width="6.1" height="6.1" fill="#000"/>
<rect x="154.6" y="385.5" width="6.1" height="6.1" fill="#000"/>
<rect x="167.2" y="351.6" width="6.1" height="6.1" fill="#000"/>
<rect x="186.0" y="408.2" width="6.1" height="6.1" fill="#000"/>
<rect x="211.2" y="389.1" width="6.1" height="6.1" fill="#000"/>
<rect x="230.1" y="421.9" width="6.1" height="6.1" fill="#000"/>
<rect x="274.1" y="473.7" width="6.1" height="6.1" fill="#000"/>
<rect x="318.1" y="436.4" width="6.1" height="6.1" fill="#000"/>
<rect x="362.1" y="402.8" width="6.1" height="6.1" fill="#000"/>
<path d="M113.6,548.7 L117.6,541.7 L109.6,541.7Z" fill="#000"/>
<path d="M126.2,536.9 L130.2,529.9 L122.2,529.9Z" fill="#000"/>
<path d="M145.0,418.6 L149.0,411.6 L141.0,411.6Z" fill="#000"/>
<path d="M157.6,389.0 L161.6,382.0 L153.6,382.0Z" fill="#000"/>
<path d="M170.2,366.3 L174.2,359.3 L166.2,359.3Z" fill="#000"/>
<path d="M189.1,390.3 L193.1,383.3 L185.1,383.3Z" fill="#000"/>
<path d="M214.2,394.0 L218.2,387.0 L210.2,387.0Z" fill="#000"/>
<path d="M233.1,409.9 L237.1,402.9 L229.1,402.9Z" fill="#000"/>
<path d="M277.1,413.0 L281.1,406.0 L273.1,406.0Z" fill="#000"/>
<path d="M321.1,370.7 L325.1,363.7 L317.1,363.7Z" fill="#000"/>
<path d="M365.2,421.0 L369.2,414.0 L361.2,414.0Z" fill="#000"/>
<path d="M113.6,545.8 L117.7,550.0 L113.6,554.2 L109.4,550.0Z" fill="#000"/>
<path d="M126.2,521.3 L130.3,525.5 L126.2,529.7 L122.0,525.5Z" fill="#000"/>
<path d="M145.0,435.0 L149.2,439.2 L145.0,443.4 L140.9,439.2Z" fill="#000"/>
<path d="M170.2,371.6 L174.3,375.8 L170.2,380.0 L166.0,375.8Z" fill="#000"/>
<path d="M189.1,400.6 L193.2,404.8 L189.1,409.0 L184.9,404.8Z" fill="#000"/>
<path d="M214.2,372.5 L218.4,376.7 L214.2,380.9 L210.1,376.7Z" fill="#000"/>
<path d="M233.1,424.9 L237.2,429.1 L233.1,433.3 L228.9,429.1Z" fill="#000"/>
<path d="M277.1,431.3 L281.3,435.5 L277.1,439.7 L273.0,435.5Z" fill="#000"/>
<path d="M321.1,405.6 L325.3,409.8 L321.1,414.0 L317.0,409.8Z" fill="#000"/>
<path d="M365.2,433.8 L369.3,438.0 L365.2,442.2 L361.0,438.0Z" fill="#000"/>
<path d="M113.6,548.0 L117.6,555.0 L109.6,555.0Z" fill="#000"/>
<path d="M126.2,524.0 L130.2,531.0 L122.2,531.0Z" fill="#000"/>
<path d="M157.6,377.0 L161.6,384.0 L153.6,384.0Z" fill="#000"/>
<path d="M170.2,366.4 L174.2,373.4 L166.2,373.4Z" fill="#000"/>
<path d="M189.1,368.0 L193.1,375.0 L185.1,375.0Z" fill="#000"/>
<path d="M214.2,372.7 L218.2,379.7 L210.2,379.7Z" fill="#000"/>
<path d="M233.1,401.0 L237.1,408.0 L229.1,408.0Z" fill="#000"/>
<path d="M277.1,405.5 L281.1,412.5 L273.1,412.5Z" fill="#000"/>
<path d="M321.1,406.0 L325.1,413.0 L317.1,413.0Z" fill="#000"/>
<path d="M365.2,440.8 L369.2,447.8 L361.2,447.8Z" fill="#000"/>
<path d="M412.0,401.0 L413.0,403.8 L416.0,403.9 L413.7,405.7 L414.4,408.6 L412.0,406.9 L409.6,408.6 L410.3,405.7 L408.0,403.9 L411.0,403.8Z" fill="#000"/>
<rect x="409.0" y="415.5" width="6.1" height="6.1" fill="#000"/>
<path d="M412.0,434.2 L416.0,427.2 L408.0,427.2Z" fill="#000"/>
<path d="M412.0,469.1 L416.2,473.3 L412.0,477.5 L407.8,473.3Z" fill="#000"/>
<path d="M412.0,492.8 L416.0,499.8 L408.0,499.8Z" fill="#000"/>
<circle cx="412.0" cy="519.5" r="3.2" fill="#000"/>
<path d="M100.5,713.0 L104.5,706.0 L96.5,706.0Z" fill="#000"/>
<path d="M113.1,697.7 L117.1,690.7 L109.1,690.7Z" fill="#000"/>
<path d="M125.7,670.9 L129.7,663.9 L121.7,663.9Z" fill="#000"/>
<path d="M144.6,784.0 L148.6,777.0 L140.6,777.0Z" fill="#000"/>
<path d="M157.2,809.4 L161.2,802.4 L153.2,802.4Z" fill="#000"/>
<path d="M169.8,812.5 L173.8,805.5 L165.8,805.5Z" fill="#000"/>
<path d="M188.7,791.2 L192.7,784.2 L184.7,784.2Z" fill="#000"/>
<path d="M213.9,789.0 L217.9,782.0 L209.9,782.0Z" fill="#000"/>
<path d="M232.8,794.0 L236.8,787.0 L228.8,787.0Z" fill="#000"/>
<path d="M276.9,801.3 L280.9,794.3 L272.9,794.3Z" fill="#000"/>
<path d="M321.0,816.0 L325.0,809.0 L317.0,809.0Z" fill="#000"/>
<path d="M365.1,820.6 L369.1,813.6 L361.1,813.6Z" fill="#000"/>
<rect x="97.5" y="706.0" width="6.1" height="6.1" fill="#000"/>
<rect x="110.1" y="700.8" width="6.1" height="6.1" fill="#000"/>
<rect x="122.7" y="697.0" width="6.1" height="6.1" fill="#000"/>
<rect x="141.6" y="767.0" width="6.1" height="6.1" fill="#000"/>
<rect x="154.2" y="800.8" width="6.1" height="6.1" fill="#000"/>
<rect x="166.8" y="770.0" width="6.1" height="6.1" fill="#000"/>
<rect x="185.7" y="755.8" width="6.1" height="6.1" fill="#000"/>
<rect x="210.9" y="774.2" width="6.1" height="6.1" fill="#000"/>
<rect x="229.8" y="728.7" width="6.1" height="6.1" fill="#000"/>
<rect x="273.9" y="752.0" width="6.1" height="6.1" fill="#000"/>
<rect x="318.0" y="773.4" width="6.1" height="6.1" fill="#000"/>
<rect x="362.1" y="739.1" width="6.1" height="6.1" fill="#000"/>
<circle cx="100.5" cy="709.0" r="3.2" fill="#000"/>
<circle cx="113.1" cy="763.8" r="3.2" fill="#000"/>
<circle cx="125.7" cy="742.3" r="3.2" fill="#000"/>
<circle cx="144.6" cy="796.0" r="3.2" fill="#000"/>
<circle cx="157.2" cy="836.2" r="3.2" fill="#000"/>
<circle cx="169.8" cy="816.2" r="3.2" fill="#000"/>
<circle cx="188.7" cy="811.5" r="3.2" fill="#000"/>
<circle cx="213.9" cy="788.4" r="3.2" fill="#000"/>
<circle cx="232.8" cy="730.7" r="3.2" fill="#000"/>
<circle cx="276.9" cy="732.2" r="3.2" fill="#000"/>
<circle cx="321.0" cy="744.5" r="3.2" fill="#000"/>
<circle cx="365.1" cy="758.2" r="3.2" fill="#000"/>
<path d="M100.5,704.8 L104.7,709.0 L100.5,713.2 L96.3,709.0Z" fill="#000"/>
<path d="M113.1,725.8 L117.3,730.0 L113.1,734.2 L108.9,730.0Z" fill="#000"/>
<path d="M125.7,770.4 L129.9,774.6 L125.7,778.8 L121.5,774.6Z" fill="#000"/>
<path d="M144.6,795.8 L148.8,800.0 L144.6,804.2 L140.4,800.0Z" fill="#000"/>
<path d="M157.2,787.3 L161.4,791.5 L157.2,795.7 L153.0,791.5Z" fill="#000"/>
<path d="M169.8,788.8 L174.0,793.0 L169.8,797.2 L165.6,793.0Z" fill="#000"/>
<path d="M188.7,728.6 L192.9,732.8 L188.7,737.0 L184.5,732.8Z" fill="#000"/>
<path d="M213.9,748.3 L218.1,752.5 L213.9,756.7 L209.7,752.5Z" fill="#000"/>
<path d="M232.8,767.7 L237.0,771.9 L232.8,776.1 L228.6,771.9Z" fill="#000"/>
<path d="M276.9,778.3 L281.1,782.5 L276.9,786.7 L272.7,782.5Z" fill="#000"/>
<path d="M321.0,807.8 L325.2,812.0 L321.0,816.2 L316.8,812.0Z" fill="#000"/>
<path d="M365.1,771.0 L369.3,775.2 L365.1,779.4 L360.9,775.2Z" fill="#000"/>
<path d="M100.5,705.0 L104.5,712.0 L96.5,712.0Z" fill="#000"/>
<path d="M113.1,747.5 L117.1,754.5 L109.1,754.5Z" fill="#000"/>
<path d="M125.7,707.5 L129.7,714.5 L121.7,714.5Z" fill="#000"/>
<path d="M144.6,810.6 L148.6,817.6 L140.6,817.6Z" fill="#000"/>
<path d="M157.2,819.8 L161.2,826.8 L153.2,826.8Z" fill="#000"/>
<path d="M169.8,786.0 L173.8,793.0 L165.8,793.0Z" fill="#000"/>
<path d="M188.7,743.0 L192.7,750.0 L184.7,750.0Z" fill="#000"/>
<path d="M213.9,757.3 L217.9,764.3 L209.9,764.3Z" fill="#000"/>
<path d="M232.8,759.5 L236.8,766.5 L228.8,766.5Z" fill="#000"/>
<path d="M276.9,766.0 L280.9,773.0 L272.9,773.0Z" fill="#000"/>
<path d="M321.0,806.0 L325.0,813.0 L317.0,813.0Z" fill="#000"/>
<path d="M365.1,762.1 L369.1,769.1 L361.1,769.1Z" fill="#000"/>
<path d="M100.5,704.8 L101.5,707.6 L104.5,707.7 L102.2,709.5 L102.9,712.4 L100.5,710.7 L98.1,712.4 L98.8,709.5 L96.5,707.7 L99.5,707.6Z" fill="#000"/>
<path d="M113.1,735.8 L114.1,738.6 L117.1,738.7 L114.8,740.5 L115.5,743.4 L113.1,741.7 L110.7,743.4 L111.4,740.5 L109.1,738.7 L112.1,738.6Z" fill="#000"/>
<path d="M125.7,720.8 L126.7,723.6 L129.7,723.7 L127.4,725.5 L128.1,728.4 L125.7,726.7 L123.3,728.4 L124.0,725.5 L121.7,723.7 L124.7,723.6Z" fill="#000"/>
<path d="M144.6,788.8 L145.6,791.6 L148.6,791.7 L146.3,793.5 L147.0,796.4 L144.6,794.7 L142.2,796.4 L142.9,793.5 L140.6,791.7 L143.6,791.6Z" fill="#000"/>
<path d="M157.2,805.8 L158.2,808.6 L161.2,808.7 L158.9,810.5 L159.6,813.4 L157.2,811.7 L154.8,813.4 L155.5,810.5 L153.2,808.7 L156.2,808.6Z" fill="#000"/>
<path d="M169.8,744.3 L170.8,747.1 L173.8,747.2 L171.5,749.0 L172.2,751.9 L169.8,750.2 L167.4,751.9 L168.1,749.0 L165.8,747.2 L168.8,747.1Z" fill="#000"/>
<path d="M188.7,763.1 L189.7,765.9 L192.7,766.0 L190.4,767.8 L191.1,770.7 L188.7,769.0 L186.3,770.7 L187.0,767.8 L184.7,766.0 L187.7,765.9Z" fill="#000"/>
<path d="M213.9,755.8 L214.9,758.6 L217.9,758.7 L215.6,760.5 L216.3,763.4 L213.9,761.7 L211.5,763.4 L212.2,760.5 L209.9,758.7 L212.9,758.6Z" fill="#000"/>
<path d="M232.8,751.9 L233.8,754.7 L236.8,754.8 L234.5,756.6 L235.2,759.5 L232.8,757.8 L230.4,759.5 L231.1,756.6 L228.8,754.8 L231.8,754.7Z" fill="#000"/>
<path d="M276.9,752.9 L277.9,755.7 L280.9,755.8 L278.6,757.6 L279.3,760.5 L276.9,758.8 L274.5,760.5 L275.2,757.6 L272.9,755.8 L275.9,755.7Z" fill="#000"/>
<path d="M321.0,772.2 L322.0,775.0 L325.0,775.1 L322.7,776.9 L323.4,779.8 L321.0,778.1 L318.6,779.8 L319.3,776.9 L317.0,775.1 L320.0,775.0Z" fill="#000"/>
<path d="M365.1,737.9 L366.1,740.7 L369.1,740.8 L366.8,742.6 L367.5,745.5 L365.1,743.8 L362.7,745.5 L363.4,742.6 L361.1,740.8 L364.1,740.7Z" fill="#000"/>
<path d="M411.3,701.8 L412.3,704.6 L415.3,704.7 L413.0,706.5 L413.7,709.4 L411.3,707.7 L408.9,709.4 L409.6,706.5 L407.3,704.7 L410.3,704.6Z" fill="#000"/>
<circle cx="411.3" cy="722.1" r="3.2" fill="#000"/>
<path d="M411.3,735.5 L415.5,739.7 L411.3,743.9 L407.1,739.7Z" fill="#000"/>
<path d="M411.3,746.5 L415.3,753.5 L407.3,753.5Z" fill="#000"/>
<rect x="408.3" y="775.1" width="6.1" height="6.1" fill="#000"/>
<path d="M411.3,814.1 L415.3,807.1 L407.3,807.1Z" fill="#000"/>
<text x="-0.60" y="21.45" font-size="31" fill="#000">A</text>
<text x="-2.80" y="332.90" font-size="31" fill="#000">B</text>
<text x="-0.25" y="638.50" font-size="31" fill="#000">C</text>
<text transform="translate(16.05,237.80) rotate(-90)" font-size="20" fill="#000" textLength="179.19" lengthAdjust="spacingAndGlyphs">pDC concentration</text>
<text transform="translate(40.40,233.00) rotate(-90)" font-size="20" fill="#000" textLength="169.46" lengthAdjust="spacingAndGlyphs">in blood (Cell/mL)</text>
<text transform="translate(16.15,535.70) rotate(-90)" font-size="20" fill="#000" textLength="165.74" lengthAdjust="spacingAndGlyphs">Plasma viral load</text>
<text transform="translate(39.60,522.10) rotate(-90)" font-size="20" fill="#000" textLength="143.29" lengthAdjust="spacingAndGlyphs">(RNA copy/mL)</text>
<text transform="translate(16.15,853.80) rotate(-90)" font-size="20" fill="#000" textLength="182.32" lengthAdjust="spacingAndGlyphs">CD4+ T-cell counts</text>
<text transform="translate(39.85,833.80) rotate(-90)" font-size="20" fill="#000" textLength="142.44" lengthAdjust="spacingAndGlyphs">(% of baseline)</text>
<text transform="translate(487.60,223.50) rotate(-90)" font-size="22.5" fill="#000" textLength="184.55" lengthAdjust="spacingAndGlyphs">Plasma viral load</text>
<text transform="translate(514.35,213.80) rotate(-90)" font-size="22.5" fill="#000" textLength="162.87" lengthAdjust="spacingAndGlyphs">(RNA copy/mL)</text>
<text transform="translate(487.60,836.80) rotate(-90)" font-size="22.5" fill="#000" textLength="184.04" lengthAdjust="spacingAndGlyphs">Plasma viral load</text>
<text transform="translate(514.35,827.00) rotate(-90)" font-size="22.5" fill="#000" textLength="162.27" lengthAdjust="spacingAndGlyphs">(RNA copy/mL)</text>
<text x="166.30" y="918.35" font-size="21.8" fill="#000" textLength="209.07" lengthAdjust="spacingAndGlyphs">Days after infection</text>
<text x="75.45" y="19.60" font-size="20" fill="#000">30</text>
<text x="74.95" y="59.78" font-size="20" fill="#000">25</text>
<text x="75.45" y="99.97" font-size="20" fill="#000">20</text>
<text x="74.95" y="140.15" font-size="20" fill="#000">15</text>
<rect x="73.81" y="136.21" width="5.51" height="5.44" fill="#fff"/>
<rect x="82.66" y="136.21" width="3.75" height="5.44" fill="#fff"/>
<text x="75.45" y="180.33" font-size="20" fill="#000">10</text>
<rect x="74.31" y="176.39" width="5.51" height="5.44" fill="#fff"/>
<rect x="83.16" y="176.39" width="3.75" height="5.44" fill="#fff"/>
<text x="79.70" y="220.52" font-size="20" fill="#000">5</text>
<text x="80.20" y="260.70" font-size="20" fill="#000">0</text>
<text x="428.45" y="21.15" font-size="20" fill="#000">10</text>
<rect x="427.31" y="17.21" width="5.51" height="5.44" fill="#fff"/>
<rect x="436.16" y="17.21" width="3.75" height="5.44" fill="#fff"/>
<text x="452.75" y="14.70" font-size="20" fill="#000">7</text>
<text x="428.45" y="66.15" font-size="20" fill="#000">10</text>
<rect x="427.31" y="62.21" width="5.51" height="5.44" fill="#fff"/>
<rect x="436.16" y="62.21" width="3.75" height="5.44" fill="#fff"/>
<text x="452.25" y="53.45" font-size="20" fill="#000">6</text>
<text x="428.45" y="111.15" font-size="20" fill="#000">10</text>
<rect x="427.31" y="107.21" width="5.51" height="5.44" fill="#fff"/>
<rect x="436.16" y="107.21" width="3.75" height="5.44" fill="#fff"/>
<text x="452.25" y="98.80" font-size="20" fill="#000">5</text>
<text x="428.45" y="157.55" font-size="20" fill="#000">10</text>
<rect x="427.31" y="153.61" width="5.51" height="5.44" fill="#fff"/>
<rect x="436.16" y="153.61" width="3.75" height="5.44" fill="#fff"/>
<text x="452.75" y="145.20" font-size="20" fill="#000">4</text>
<text x="428.45" y="203.90" font-size="20" fill="#000">10</text>
<rect x="427.31" y="199.96" width="5.51" height="5.44" fill="#fff"/>
<rect x="436.16" y="199.96" width="3.75" height="5.44" fill="#fff"/>
<text x="452.75" y="192.10" font-size="20" fill="#000">3</text>
<text x="428.45" y="251.30" font-size="20" fill="#000">10</text>
<rect x="427.31" y="247.36" width="5.51" height="5.44" fill="#fff"/>
<rect x="436.16" y="247.36" width="3.75" height="5.44" fill="#fff"/>
<text x="452.75" y="239.00" font-size="20" fill="#000">2</text>
<text x="99.35" y="278.50" font-size="20" fill="#000">0</text>
<text x="141.55" y="278.50" font-size="20" fill="#000">7</text>
<text x="182.50" y="278.35" font-size="20" fill="#000">14</text>
<rect x="181.36" y="274.41" width="5.51" height="5.44" fill="#fff"/>
<rect x="190.21" y="274.41" width="3.75" height="5.44" fill="#fff"/>
<text x="227.33" y="278.35" font-size="20" fill="#000">21</text>
<rect x="238.91" y="274.41" width="3.91" height="5.44" fill="#fff"/>
<rect x="246.16" y="274.41" width="3.75" height="5.44" fill="#fff"/>
<text x="270.15" y="278.35" font-size="20" fill="#000">28</text>
<text x="313.10" y="278.35" font-size="20" fill="#000">35</text>
<text x="356.75" y="278.35" font-size="20" fill="#000">42</text>
<text x="396.70" y="278.35" font-size="20" fill="#000">M3</text>
<text x="61.80" y="329.70" font-size="20" fill="#000">10</text>
<rect x="60.66" y="325.76" width="5.51" height="5.44" fill="#fff"/>
<rect x="69.51" y="325.76" width="3.75" height="5.44" fill="#fff"/>
<text x="83.60" y="326.90" font-size="20" fill="#000">8</text>
<text x="61.80" y="367.85" font-size="20" fill="#000">10</text>
<rect x="60.66" y="363.91" width="5.51" height="5.44" fill="#fff"/>
<rect x="69.51" y="363.91" width="3.75" height="5.44" fill="#fff"/>
<text x="84.10" y="365.05" font-size="20" fill="#000">7</text>
<text x="61.80" y="406.00" font-size="20" fill="#000">10</text>
<rect x="60.66" y="402.06" width="5.51" height="5.44" fill="#fff"/>
<rect x="69.51" y="402.06" width="3.75" height="5.44" fill="#fff"/>
<text x="83.60" y="403.20" font-size="20" fill="#000">6</text>
<text x="61.80" y="444.15" font-size="20" fill="#000">10</text>
<rect x="60.66" y="440.21" width="5.51" height="5.44" fill="#fff"/>
<rect x="69.51" y="440.21" width="3.75" height="5.44" fill="#fff"/>
<text x="83.60" y="441.35" font-size="20" fill="#000">5</text>
<text x="61.80" y="482.30" font-size="20" fill="#000">10</text>
<rect x="60.66" y="478.36" width="5.51" height="5.44" fill="#fff"/>
<rect x="69.51" y="478.36" width="3.75" height="5.44" fill="#fff"/>
<text x="84.10" y="479.50" font-size="20" fill="#000">4</text>
<text x="61.80" y="520.45" font-size="20" fill="#000">10</text>
<rect x="60.66" y="516.51" width="5.51" height="5.44" fill="#fff"/>
<rect x="69.51" y="516.51" width="3.75" height="5.44" fill="#fff"/>
<text x="84.10" y="517.65" font-size="20" fill="#000">3</text>
<text x="61.80" y="558.60" font-size="20" fill="#000">10</text>
<rect x="60.66" y="554.66" width="5.51" height="5.44" fill="#fff"/>
<rect x="69.51" y="554.66" width="3.75" height="5.44" fill="#fff"/>
<text x="84.10" y="555.80" font-size="20" fill="#000">2</text>
<text x="98.00" y="582.65" font-size="20" fill="#000">0</text>
<text x="142.50" y="582.65" font-size="20" fill="#000">7</text>
<text x="183.50" y="582.50" font-size="20" fill="#000">14</text>
<rect x="182.36" y="578.56" width="5.51" height="5.44" fill="#fff"/>
<rect x="191.21" y="578.56" width="3.75" height="5.44" fill="#fff"/>
<text x="227.83" y="582.50" font-size="20" fill="#000">21</text>
<rect x="239.41" y="578.56" width="3.91" height="5.44" fill="#fff"/>
<rect x="246.66" y="578.56" width="3.75" height="5.44" fill="#fff"/>
<text x="272.25" y="582.50" font-size="20" fill="#000">28</text>
<text x="316.35" y="582.50" font-size="20" fill="#000">35</text>
<text x="361.50" y="582.50" font-size="20" fill="#000">42</text>
<text x="404.85" y="582.50" font-size="20" fill="#000">M3</text>
<text x="54.40" y="641.40" font-size="20" fill="#000">150</text>
<rect x="53.26" y="637.46" width="5.51" height="5.44" fill="#fff"/>
<rect x="62.11" y="637.46" width="3.75" height="5.44" fill="#fff"/>
<text x="54.40" y="680.38" font-size="20" fill="#000">125</text>
<rect x="53.26" y="676.44" width="5.51" height="5.44" fill="#fff"/>
<rect x="62.11" y="676.44" width="3.75" height="5.44" fill="#fff"/>
<text x="54.40" y="719.37" font-size="20" fill="#000">100</text>
<rect x="53.26" y="715.43" width="5.51" height="5.44" fill="#fff"/>
<rect x="62.11" y="715.43" width="3.75" height="5.44" fill="#fff"/>
<text x="65.20" y="758.35" font-size="20" fill="#000">75</text>
<text x="65.70" y="797.33" font-size="20" fill="#000">50</text>
<text x="65.20" y="836.32" font-size="20" fill="#000">25</text>
<text x="76.50" y="875.30" font-size="20" fill="#000">0</text>
<text x="430.60" y="637.60" font-size="20" fill="#000">10</text>
<rect x="429.46" y="633.66" width="5.51" height="5.44" fill="#fff"/>
<rect x="438.31" y="633.66" width="3.75" height="5.44" fill="#fff"/>
<text x="455.15" y="630.95" font-size="20" fill="#000">7</text>
<text x="430.60" y="682.25" font-size="20" fill="#000">10</text>
<rect x="429.46" y="678.31" width="5.51" height="5.44" fill="#fff"/>
<rect x="438.31" y="678.31" width="3.75" height="5.44" fill="#fff"/>
<text x="454.65" y="675.65" font-size="20" fill="#000">6</text>
<text x="430.60" y="726.90" font-size="20" fill="#000">10</text>
<rect x="429.46" y="722.96" width="5.51" height="5.44" fill="#fff"/>
<rect x="438.31" y="722.96" width="3.75" height="5.44" fill="#fff"/>
<text x="454.65" y="720.85" font-size="20" fill="#000">5</text>
<text x="430.60" y="771.60" font-size="20" fill="#000">10</text>
<rect x="429.46" y="767.66" width="5.51" height="5.44" fill="#fff"/>
<rect x="438.31" y="767.66" width="3.75" height="5.44" fill="#fff"/>
<text x="455.15" y="765.25" font-size="20" fill="#000">4</text>
<text x="430.60" y="817.20" font-size="20" fill="#000">10</text>
<rect x="429.46" y="813.26" width="5.51" height="5.44" fill="#fff"/>
<rect x="438.31" y="813.26" width="3.75" height="5.44" fill="#fff"/>
<text x="455.15" y="810.85" font-size="20" fill="#000">3</text>
<text x="430.60" y="861.85" font-size="20" fill="#000">10</text>
<rect x="429.46" y="857.91" width="5.51" height="5.44" fill="#fff"/>
<rect x="438.31" y="857.91" width="3.75" height="5.44" fill="#fff"/>
<text x="455.15" y="855.25" font-size="20" fill="#000">2</text>
<text x="94.70" y="890.15" font-size="20" fill="#000">0</text>
<text x="138.65" y="890.15" font-size="20" fill="#000">7</text>
<text x="180.50" y="890.50" font-size="20" fill="#000">14</text>
<rect x="179.36" y="886.56" width="5.51" height="5.44" fill="#fff"/>
<rect x="188.21" y="886.56" width="3.75" height="5.44" fill="#fff"/>
<text x="224.08" y="890.85" font-size="20" fill="#000">21</text>
<rect x="235.66" y="886.91" width="3.91" height="5.44" fill="#fff"/>
<rect x="242.91" y="886.91" width="3.75" height="5.44" fill="#fff"/>
<text x="269.35" y="890.85" font-size="20" fill="#000">28</text>
<text x="312.88" y="890.85" font-size="20" fill="#000">35</text>
<text x="356.38" y="890.85" font-size="20" fill="#000">42</text>
<text x="398.12" y="890.85" font-size="20" fill="#000">M3</text>
</svg></body></html>
